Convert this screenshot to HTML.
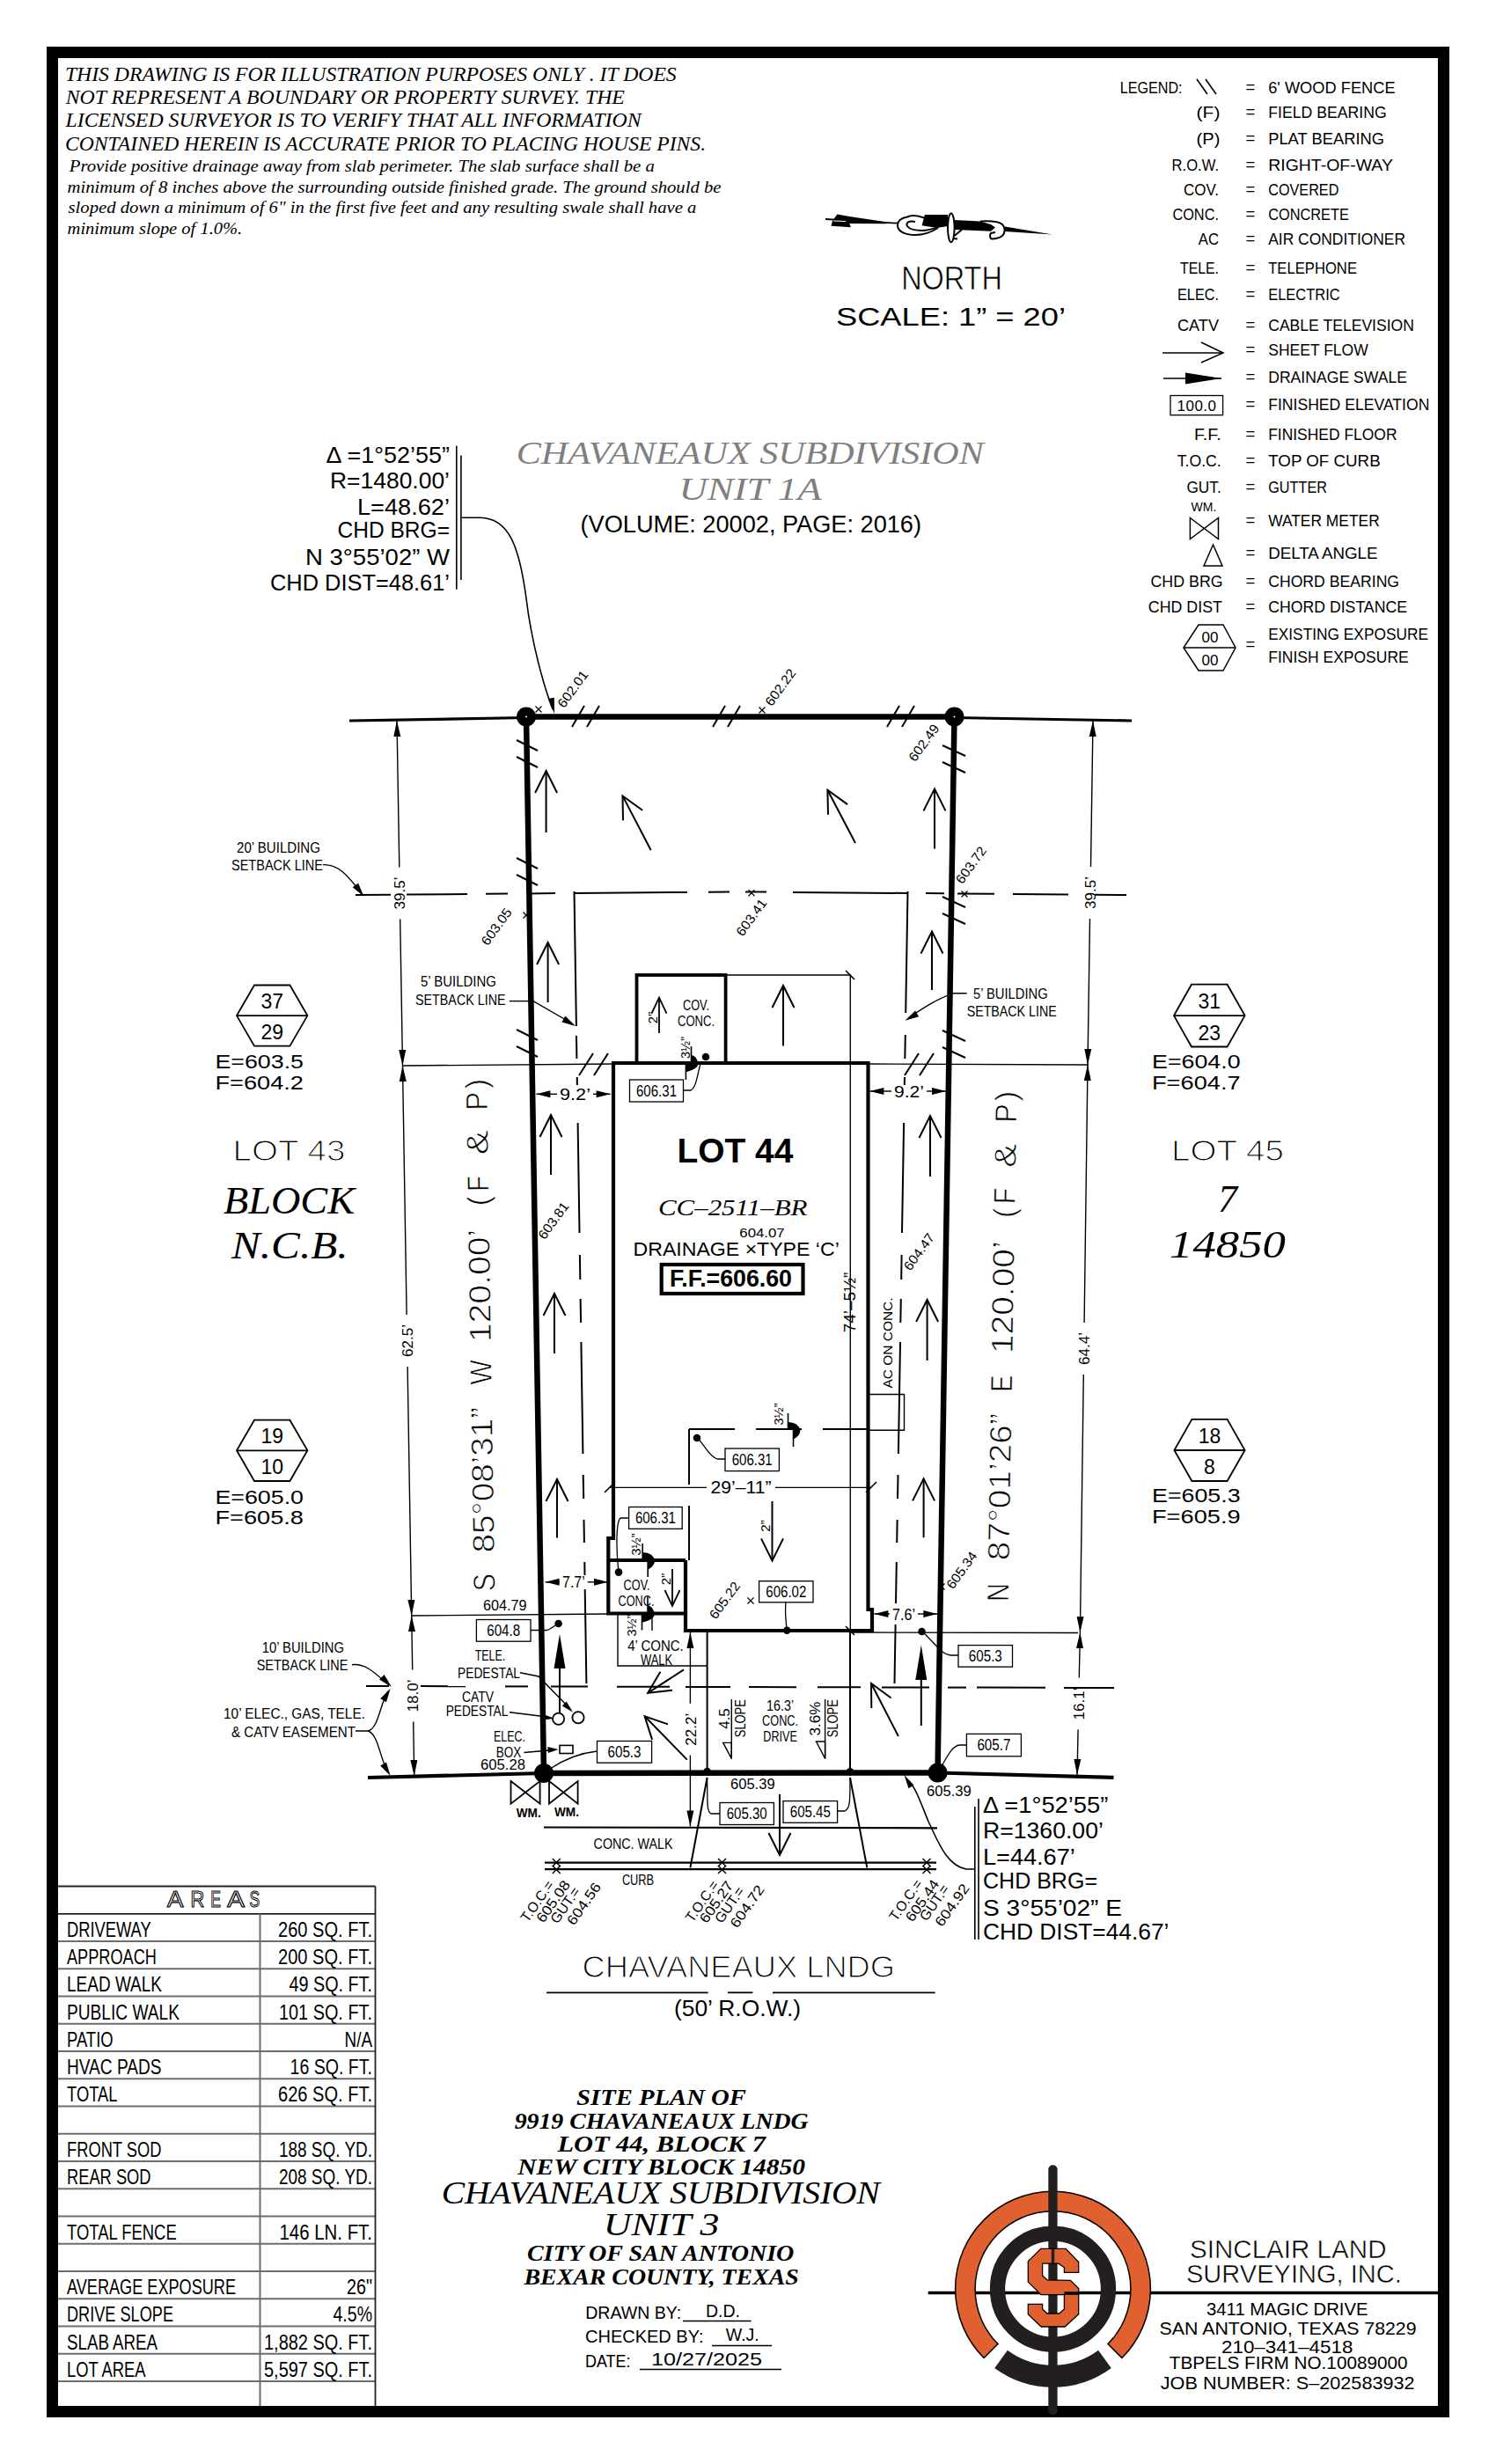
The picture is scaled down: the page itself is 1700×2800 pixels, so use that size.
<!DOCTYPE html>
<html><head><meta charset="utf-8"><style>
html,body{margin:0;padding:0;background:#fff;}
svg{display:block;}
</style></head><body>
<svg width="1700" height="2800" viewBox="0 0 1700 2800">
<rect x="0" y="0" width="1700" height="2800" fill="#fff"/>
<rect x="59.5" y="59.5" width="1581" height="2681" fill="none" stroke="#000" stroke-width="13"/>
<text x="73.9" y="91.6" fill="#000" font-size="24" font-family='"Liberation Serif", serif' textLength="694.8" lengthAdjust="spacingAndGlyphs" font-style="italic">THIS DRAWING IS FOR ILLUSTRATION PURPOSES ONLY . IT DOES</text>
<text x="74.7" y="118.3" fill="#000" font-size="24" font-family='"Liberation Serif", serif' textLength="635.2" lengthAdjust="spacingAndGlyphs" font-style="italic">NOT REPRESENT A BOUNDARY OR PROPERTY SURVEY. THE</text>
<text x="74.5" y="144.2" fill="#000" font-size="24" font-family='"Liberation Serif", serif' textLength="654.1" lengthAdjust="spacingAndGlyphs" font-style="italic">LICENSED SURVEYOR IS TO VERIFY THAT ALL INFORMATION</text>
<text x="73.9" y="171" fill="#000" font-size="24" font-family='"Liberation Serif", serif' textLength="728.2" lengthAdjust="spacingAndGlyphs" font-style="italic">CONTAINED HEREIN IS ACCURATE PRIOR TO PLACING HOUSE PINS.</text>
<text x="78.7" y="195" fill="#000" font-size="19.5" font-family='"Liberation Serif", serif' textLength="665.2" lengthAdjust="spacingAndGlyphs" font-style="italic">Provide positive drainage away from slab perimeter. The slab surface shall be a</text>
<text x="76.6" y="219" fill="#000" font-size="19.5" font-family='"Liberation Serif", serif' textLength="742.9" lengthAdjust="spacingAndGlyphs" font-style="italic">minimum of 8 inches above the surrounding outside finished grade. The ground should be</text>
<text x="77.5" y="241.8" fill="#000" font-size="19.5" font-family='"Liberation Serif", serif' textLength="713.9" lengthAdjust="spacingAndGlyphs" font-style="italic">sloped down a minimum of 6" in the first five feet and any resulting swale shall have a</text>
<text x="76.6" y="265.9" fill="#000" font-size="19.5" font-family='"Liberation Serif", serif' textLength="198.6" lengthAdjust="spacingAndGlyphs" font-style="italic">minimum slope of 1.0%.</text>
<line x1="938" y1="249" x2="1020" y2="253.7" stroke="#000" stroke-width="1.8" stroke-linecap="butt"/>
<polygon points="951.4,243.4 965.3,246 1007,252.3 1007,254.2 965.3,254 966.9,258.3 944.4,256.7 946,250.9" fill="#000"/>
<line x1="947" y1="251" x2="961" y2="251.5" stroke="#fff" stroke-width="1.1" stroke-linecap="butt"/>
<path d="M1050,247.5 C1042,244.5 1035,244.5 1031,246.5 C1023,248 1019.5,252 1020,257 C1021,264 1030,267 1040,267 C1050,267 1058,264 1066,259" fill="none" stroke="#000" stroke-width="2.0"/>
<path d="M1040,252 C1033,250.5 1029,253 1031,257 C1034,261 1040,262 1048,262 C1055,262 1060,260 1066,258" fill="none" stroke="#000" stroke-width="2.0"/>
<polygon points="1050.9,243.9 1077,243.9 1077,257 1064.8,258.9 1047.6,256.2" fill="#000"/>
<ellipse cx="1080.8" cy="258.8" rx="3.8" ry="16.4" fill="#fff" stroke="#000" stroke-width="2"/>
<path d="M1083.5,271 L1088,271.5 M1084.5,268 L1093,261" fill="none" stroke="#000" stroke-width="2.0"/>
<polygon points="1084.5,250 1114,251.5 1126,255 1131,258.5 1126,262.8 1084.5,261" fill="#000"/>
<path d="M1114,251.5 C1125,251 1135,251.5 1139,255 C1143,259 1142,265 1139,268 C1135,271 1128,272 1126,271 C1124.5,269 1125,266 1126,265 L1131,264" fill="none" stroke="#000" stroke-width="2.0"/>
<polygon points="1142,257.5 1196,266.5 1142,263" fill="#000"/>
<text x="1081.5" y="328.7" fill="#000" font-size="36" font-family='"Liberation Sans", sans-serif' text-anchor="middle" textLength="114.7" lengthAdjust="spacingAndGlyphs" stroke="#fff" stroke-width="0.6">NORTH</text>
<text x="950" y="369.6" fill="#000" font-size="29" font-family='"Liberation Sans", sans-serif' textLength="261" lengthAdjust="spacingAndGlyphs">SCALE:  1”  =  20’</text>
<text x="1441.2" y="106.1" fill="#000" font-size="18.5" font-family='"Liberation Sans", sans-serif' textLength="144.4" lengthAdjust="spacingAndGlyphs">6'  WOOD  FENCE</text>
<text x="1421" y="105.1" fill="#000" font-size="18.5" font-family='"Liberation Sans", sans-serif' text-anchor="middle">=</text>
<text x="1441.2" y="134.2" fill="#000" font-size="18.5" font-family='"Liberation Sans", sans-serif' textLength="134.5" lengthAdjust="spacingAndGlyphs">FIELD  BEARING</text>
<text x="1421" y="133.2" fill="#000" font-size="18.5" font-family='"Liberation Sans", sans-serif' text-anchor="middle">=</text>
<text x="1441.2" y="164.1" fill="#000" font-size="18.5" font-family='"Liberation Sans", sans-serif' textLength="131.8" lengthAdjust="spacingAndGlyphs">PLAT  BEARING</text>
<text x="1421" y="163.1" fill="#000" font-size="18.5" font-family='"Liberation Sans", sans-serif' text-anchor="middle">=</text>
<text x="1441.2" y="193.5" fill="#000" font-size="18.5" font-family='"Liberation Sans", sans-serif' textLength="141.7" lengthAdjust="spacingAndGlyphs">RIGHT-OF-WAY</text>
<text x="1421" y="192.5" fill="#000" font-size="18.5" font-family='"Liberation Sans", sans-serif' text-anchor="middle">=</text>
<text x="1441.2" y="221.9" fill="#000" font-size="18.5" font-family='"Liberation Sans", sans-serif' textLength="80.2" lengthAdjust="spacingAndGlyphs">COVERED</text>
<text x="1421" y="220.9" fill="#000" font-size="18.5" font-family='"Liberation Sans", sans-serif' text-anchor="middle">=</text>
<text x="1441.2" y="249.9" fill="#000" font-size="18.5" font-family='"Liberation Sans", sans-serif' textLength="91.7" lengthAdjust="spacingAndGlyphs">CONCRETE</text>
<text x="1421" y="248.9" fill="#000" font-size="18.5" font-family='"Liberation Sans", sans-serif' text-anchor="middle">=</text>
<text x="1441.2" y="278" fill="#000" font-size="18.5" font-family='"Liberation Sans", sans-serif' textLength="155.9" lengthAdjust="spacingAndGlyphs">AIR  CONDITIONER</text>
<text x="1421" y="277" fill="#000" font-size="18.5" font-family='"Liberation Sans", sans-serif' text-anchor="middle">=</text>
<text x="1441.2" y="310.6" fill="#000" font-size="18.5" font-family='"Liberation Sans", sans-serif' textLength="100.8" lengthAdjust="spacingAndGlyphs">TELEPHONE</text>
<text x="1421" y="309.6" fill="#000" font-size="18.5" font-family='"Liberation Sans", sans-serif' text-anchor="middle">=</text>
<text x="1441.2" y="341.4" fill="#000" font-size="18.5" font-family='"Liberation Sans", sans-serif' textLength="81.6" lengthAdjust="spacingAndGlyphs">ELECTRIC</text>
<text x="1421" y="340.4" fill="#000" font-size="18.5" font-family='"Liberation Sans", sans-serif' text-anchor="middle">=</text>
<text x="1441.2" y="376.1" fill="#000" font-size="18.5" font-family='"Liberation Sans", sans-serif' textLength="165.8" lengthAdjust="spacingAndGlyphs">CABLE  TELEVISION</text>
<text x="1421" y="375.1" fill="#000" font-size="18.5" font-family='"Liberation Sans", sans-serif' text-anchor="middle">=</text>
<text x="1441.2" y="404.2" fill="#000" font-size="18.5" font-family='"Liberation Sans", sans-serif' textLength="113.6" lengthAdjust="spacingAndGlyphs">SHEET  FLOW</text>
<text x="1421" y="403.2" fill="#000" font-size="18.5" font-family='"Liberation Sans", sans-serif' text-anchor="middle">=</text>
<text x="1441.2" y="434.8" fill="#000" font-size="18.5" font-family='"Liberation Sans", sans-serif' textLength="157.8" lengthAdjust="spacingAndGlyphs">DRAINAGE  SWALE</text>
<text x="1421" y="433.8" fill="#000" font-size="18.5" font-family='"Liberation Sans", sans-serif' text-anchor="middle">=</text>
<text x="1441.2" y="466.3" fill="#000" font-size="18.5" font-family='"Liberation Sans", sans-serif' textLength="183.2" lengthAdjust="spacingAndGlyphs">FINISHED  ELEVATION</text>
<text x="1421" y="465.3" fill="#000" font-size="18.5" font-family='"Liberation Sans", sans-serif' text-anchor="middle">=</text>
<text x="1441.2" y="500.3" fill="#000" font-size="18.5" font-family='"Liberation Sans", sans-serif' textLength="146.3" lengthAdjust="spacingAndGlyphs">FINISHED  FLOOR</text>
<text x="1421" y="499.3" fill="#000" font-size="18.5" font-family='"Liberation Sans", sans-serif' text-anchor="middle">=</text>
<text x="1441.2" y="530.2" fill="#000" font-size="18.5" font-family='"Liberation Sans", sans-serif' textLength="127.5" lengthAdjust="spacingAndGlyphs">TOP  OF  CURB</text>
<text x="1421" y="529.2" fill="#000" font-size="18.5" font-family='"Liberation Sans", sans-serif' text-anchor="middle">=</text>
<text x="1441.2" y="559.6" fill="#000" font-size="18.5" font-family='"Liberation Sans", sans-serif' textLength="66.8" lengthAdjust="spacingAndGlyphs">GUTTER</text>
<text x="1421" y="558.6" fill="#000" font-size="18.5" font-family='"Liberation Sans", sans-serif' text-anchor="middle">=</text>
<text x="1441.2" y="597.9" fill="#000" font-size="18.5" font-family='"Liberation Sans", sans-serif' textLength="126.5" lengthAdjust="spacingAndGlyphs">WATER  METER</text>
<text x="1421" y="596.9" fill="#000" font-size="18.5" font-family='"Liberation Sans", sans-serif' text-anchor="middle">=</text>
<text x="1441.2" y="635.3" fill="#000" font-size="18.5" font-family='"Liberation Sans", sans-serif' textLength="124.3" lengthAdjust="spacingAndGlyphs">DELTA  ANGLE</text>
<text x="1421" y="634.3" fill="#000" font-size="18.5" font-family='"Liberation Sans", sans-serif' text-anchor="middle">=</text>
<text x="1441.2" y="667.4" fill="#000" font-size="18.5" font-family='"Liberation Sans", sans-serif' textLength="148.9" lengthAdjust="spacingAndGlyphs">CHORD  BEARING</text>
<text x="1421" y="666.4" fill="#000" font-size="18.5" font-family='"Liberation Sans", sans-serif' text-anchor="middle">=</text>
<text x="1441.2" y="695.5" fill="#000" font-size="18.5" font-family='"Liberation Sans", sans-serif' textLength="157.8" lengthAdjust="spacingAndGlyphs">CHORD  DISTANCE</text>
<text x="1421" y="694.5" fill="#000" font-size="18.5" font-family='"Liberation Sans", sans-serif' text-anchor="middle">=</text>
<text x="1441.2" y="726.7" fill="#000" font-size="18.5" font-family='"Liberation Sans", sans-serif' textLength="181.8" lengthAdjust="spacingAndGlyphs">EXISTING  EXPOSURE</text>
<text x="1441.2" y="752.9" fill="#000" font-size="18.5" font-family='"Liberation Sans", sans-serif' textLength="159.6" lengthAdjust="spacingAndGlyphs">FINISH  EXPOSURE</text>
<text x="1272.7" y="106.1" fill="#000" font-size="18.5" font-family='"Liberation Sans", sans-serif' textLength="70.9" lengthAdjust="spacingAndGlyphs">LEGEND:</text>
<text x="1359.6" y="134.2" fill="#000" font-size="18.5" font-family='"Liberation Sans", sans-serif' textLength="26.8" lengthAdjust="spacingAndGlyphs">(F)</text>
<text x="1359.6" y="164.1" fill="#000" font-size="18.5" font-family='"Liberation Sans", sans-serif' textLength="26.8" lengthAdjust="spacingAndGlyphs">(P)</text>
<text x="1331.6" y="193.5" fill="#000" font-size="18.5" font-family='"Liberation Sans", sans-serif' textLength="53.4" lengthAdjust="spacingAndGlyphs">R.O.W.</text>
<text x="1345" y="221.9" fill="#000" font-size="18.5" font-family='"Liberation Sans", sans-serif' textLength="40" lengthAdjust="spacingAndGlyphs">COV.</text>
<text x="1332.4" y="249.9" fill="#000" font-size="18.5" font-family='"Liberation Sans", sans-serif' textLength="52.6" lengthAdjust="spacingAndGlyphs">CONC.</text>
<text x="1361.8" y="278" fill="#000" font-size="18.5" font-family='"Liberation Sans", sans-serif' textLength="23.2" lengthAdjust="spacingAndGlyphs">AC</text>
<text x="1341" y="310.6" fill="#000" font-size="18.5" font-family='"Liberation Sans", sans-serif' textLength="44" lengthAdjust="spacingAndGlyphs">TELE.</text>
<text x="1338" y="341.4" fill="#000" font-size="18.5" font-family='"Liberation Sans", sans-serif' textLength="47" lengthAdjust="spacingAndGlyphs">ELEC.</text>
<text x="1338" y="376.1" fill="#000" font-size="18.5" font-family='"Liberation Sans", sans-serif' textLength="47" lengthAdjust="spacingAndGlyphs">CATV</text>
<text x="1357" y="500.3" fill="#000" font-size="18.5" font-family='"Liberation Sans", sans-serif' textLength="30.7" lengthAdjust="spacingAndGlyphs">F.F.</text>
<text x="1337.7" y="530.2" fill="#000" font-size="18.5" font-family='"Liberation Sans", sans-serif' textLength="50" lengthAdjust="spacingAndGlyphs">T.O.C.</text>
<text x="1348.4" y="559.6" fill="#000" font-size="18.5" font-family='"Liberation Sans", sans-serif' textLength="39.3" lengthAdjust="spacingAndGlyphs">GUT.</text>
<text x="1307.5" y="667.4" fill="#000" font-size="18.5" font-family='"Liberation Sans", sans-serif' textLength="82.1" lengthAdjust="spacingAndGlyphs">CHD  BRG</text>
<text x="1304.8" y="695.5" fill="#000" font-size="18.5" font-family='"Liberation Sans", sans-serif' textLength="84.2" lengthAdjust="spacingAndGlyphs">CHD  DIST</text>
<text x="1421" y="738" fill="#000" font-size="18.5" font-family='"Liberation Sans", sans-serif' text-anchor="middle">=</text>
<line x1="1360" y1="90" x2="1372" y2="107" stroke="#000" stroke-width="1.6" stroke-linecap="butt"/>
<line x1="1370" y1="90" x2="1382" y2="107" stroke="#000" stroke-width="1.6" stroke-linecap="butt"/>
<line x1="1321" y1="401" x2="1390" y2="401" stroke="#000" stroke-width="1.5" stroke-linecap="butt"/>
<polyline points="1365,389 1390,401 1365,412" fill="none" stroke="#000" stroke-width="1.5" stroke-linejoin="miter"/>
<line x1="1322" y1="430" x2="1388" y2="430" stroke="#000" stroke-width="1.6" stroke-linecap="butt"/>
<polygon points="1347,423.5 1388,430 1347,436.5" fill="#000"/>
<rect x="1330" y="449.5" width="59.6" height="22.2" fill="none" stroke="#000" stroke-width="1.3"/>
<text x="1360" y="467" fill="#000" font-size="17" font-family='"Liberation Sans", sans-serif' text-anchor="middle" letter-spacing="0.5">100.0</text>
<text x="1368" y="580.5" fill="#000" font-size="14" font-family='"Liberation Sans", sans-serif' text-anchor="middle">WM.</text>
<polygon points="1352.4,588.5 1384.5,612.6 1384.5,588.5 1352.4,612.6" fill="none" stroke="#000" stroke-width="1.5" stroke-linejoin="miter"/>
<polygon points="1378.5,619 1389,643 1368,643" fill="none" stroke="#000" stroke-width="1.5" stroke-linejoin="miter"/>
<polygon points="1362,710 1390,710 1404,736 1390,762 1362,762 1345,736" fill="none" stroke="#000" stroke-width="1.5" stroke-linejoin="miter"/>
<line x1="1345" y1="736" x2="1404" y2="736" stroke="#000" stroke-width="1.5" stroke-linecap="butt"/>
<text x="1375" y="730" fill="#000" font-size="17" font-family='"Liberation Sans", sans-serif' text-anchor="middle">00</text>
<text x="1375" y="756" fill="#000" font-size="17" font-family='"Liberation Sans", sans-serif' text-anchor="middle">00</text>
<text x="586.8" y="527" fill="#7f7f7f" font-size="35" font-family='"Liberation Serif", serif' textLength="531" lengthAdjust="spacingAndGlyphs" font-style="italic">CHAVANEAUX  SUBDIVISION</text>
<text x="771.5" y="568" fill="#7f7f7f" font-size="35" font-family='"Liberation Serif", serif' textLength="162" lengthAdjust="spacingAndGlyphs" font-style="italic">UNIT  1A</text>
<text x="659.5" y="605" fill="#000" font-size="27" font-family='"Liberation Sans", sans-serif' textLength="387.5" lengthAdjust="spacingAndGlyphs">(VOLUME:  20002,  PAGE:  2016)</text>
<text x="511" y="525.5" fill="#000" font-size="26" font-family='"Liberation Sans", sans-serif' text-anchor="end" textLength="140.4" lengthAdjust="spacingAndGlyphs">Δ =1°52’55”</text>
<text x="511" y="555.4" fill="#000" font-size="26" font-family='"Liberation Sans", sans-serif' text-anchor="end" textLength="136" lengthAdjust="spacingAndGlyphs">R=1480.00’</text>
<text x="511" y="584.8" fill="#000" font-size="26" font-family='"Liberation Sans", sans-serif' text-anchor="end" textLength="105" lengthAdjust="spacingAndGlyphs">L=48.62’</text>
<text x="511" y="611" fill="#000" font-size="26" font-family='"Liberation Sans", sans-serif' text-anchor="end" textLength="127.5" lengthAdjust="spacingAndGlyphs">CHD  BRG=</text>
<text x="511" y="641.8" fill="#000" font-size="26" font-family='"Liberation Sans", sans-serif' text-anchor="end" textLength="164" lengthAdjust="spacingAndGlyphs">N  3°55’02”  W</text>
<text x="511" y="671.2" fill="#000" font-size="26" font-family='"Liberation Sans", sans-serif' text-anchor="end" textLength="204" lengthAdjust="spacingAndGlyphs">CHD  DIST=48.61’</text>
<line x1="518.8" y1="506.7" x2="518.8" y2="669.8" stroke="#000" stroke-width="1.6" stroke-linecap="butt"/>
<line x1="523.9" y1="517.4" x2="523.9" y2="659" stroke="#000" stroke-width="1.6" stroke-linecap="butt"/>
<path d="M524.7,588.3 L546,588.3 C578,589 590,620 598,680 C604,730 618,780 628,806" fill="none" stroke="#000" stroke-width="1.6"/>
<polygon points="630,811 623,794.1 629.8,792.7" fill="#000"/>
<line x1="397" y1="819" x2="598" y2="815.5" stroke="#000" stroke-width="3.2" stroke-linecap="butt"/>
<line x1="1084.5" y1="815.5" x2="1286" y2="819" stroke="#000" stroke-width="3.2" stroke-linecap="butt"/>
<line x1="418" y1="2020" x2="618" y2="2015" stroke="#000" stroke-width="4.2" stroke-linecap="butt"/>
<line x1="1065.5" y1="2014.5" x2="1265.5" y2="2019.8" stroke="#000" stroke-width="4.2" stroke-linecap="butt"/>
<polygon points="598,814.5 1084.5,814.5 1065.5,2014.5 618,2015" fill="none" stroke="#000" stroke-width="6.5" stroke-linejoin="miter"/>
<circle cx="598" cy="814.5" r="11" fill="#000"/>
<circle cx="598" cy="814.5" r="1" fill="#fff"/>
<circle cx="1084.5" cy="814.5" r="11" fill="#000"/>
<circle cx="1084.5" cy="814.5" r="1" fill="#fff"/>
<circle cx="618" cy="2015" r="11" fill="#000"/>
<circle cx="1065.5" cy="2014.5" r="11" fill="#000"/>
<line x1="650" y1="826" x2="664" y2="802" stroke="#000" stroke-width="2.0" stroke-linecap="butt"/>
<line x1="667" y1="826" x2="681" y2="802" stroke="#000" stroke-width="2.0" stroke-linecap="butt"/>
<line x1="810" y1="826" x2="824" y2="802" stroke="#000" stroke-width="2.0" stroke-linecap="butt"/>
<line x1="827" y1="826" x2="841" y2="802" stroke="#000" stroke-width="2.0" stroke-linecap="butt"/>
<line x1="1008" y1="826" x2="1022" y2="802" stroke="#000" stroke-width="2.0" stroke-linecap="butt"/>
<line x1="1025" y1="826" x2="1039" y2="802" stroke="#000" stroke-width="2.0" stroke-linecap="butt"/>
<line x1="587" y1="841" x2="611" y2="853" stroke="#000" stroke-width="2.0" stroke-linecap="butt"/>
<line x1="587" y1="860" x2="611" y2="872" stroke="#000" stroke-width="2.0" stroke-linecap="butt"/>
<line x1="587" y1="975" x2="611" y2="987" stroke="#000" stroke-width="2.0" stroke-linecap="butt"/>
<line x1="587" y1="994" x2="611" y2="1006" stroke="#000" stroke-width="2.0" stroke-linecap="butt"/>
<line x1="587" y1="1170" x2="611" y2="1182" stroke="#000" stroke-width="2.0" stroke-linecap="butt"/>
<line x1="587" y1="1189" x2="611" y2="1201" stroke="#000" stroke-width="2.0" stroke-linecap="butt"/>
<line x1="1071" y1="847" x2="1097" y2="859" stroke="#000" stroke-width="2.0" stroke-linecap="butt"/>
<line x1="1071" y1="866" x2="1097" y2="878" stroke="#000" stroke-width="2.0" stroke-linecap="butt"/>
<line x1="1071" y1="1019" x2="1097" y2="1031" stroke="#000" stroke-width="2.0" stroke-linecap="butt"/>
<line x1="1071" y1="1038" x2="1097" y2="1050" stroke="#000" stroke-width="2.0" stroke-linecap="butt"/>
<line x1="1071" y1="1171" x2="1097" y2="1183" stroke="#000" stroke-width="2.0" stroke-linecap="butt"/>
<line x1="1071" y1="1190" x2="1097" y2="1202" stroke="#000" stroke-width="2.0" stroke-linecap="butt"/>
<line x1="658" y1="1222" x2="674" y2="1197" stroke="#000" stroke-width="2.0" stroke-linecap="butt"/>
<line x1="675" y1="1222" x2="691" y2="1197" stroke="#000" stroke-width="2.0" stroke-linecap="butt"/>
<line x1="1028" y1="1222" x2="1044" y2="1197" stroke="#000" stroke-width="2.0" stroke-linecap="butt"/>
<line x1="1045" y1="1222" x2="1061" y2="1197" stroke="#000" stroke-width="2.0" stroke-linecap="butt"/>
<line x1="404" y1="1017" x2="444" y2="1016.7" stroke="#000" stroke-width="2.0" stroke-linecap="butt"/>
<line x1="462" y1="1016.5" x2="531" y2="1016" stroke="#000" stroke-width="2.0" stroke-linecap="butt"/>
<line x1="552" y1="1015.8" x2="577" y2="1015.6" stroke="#000" stroke-width="2.0" stroke-linecap="butt"/>
<line x1="600" y1="1015.4" x2="631" y2="1015.1" stroke="#000" stroke-width="2.0" stroke-linecap="butt"/>
<line x1="652.5" y1="1015" x2="781" y2="1013.9" stroke="#000" stroke-width="2.0" stroke-linecap="butt"/>
<line x1="805" y1="1013.7" x2="829" y2="1013.5" stroke="#000" stroke-width="2.0" stroke-linecap="butt"/>
<line x1="847" y1="1013.4" x2="871" y2="1013.6" stroke="#000" stroke-width="2.0" stroke-linecap="butt"/>
<line x1="901" y1="1013.9" x2="1031" y2="1015" stroke="#000" stroke-width="2.0" stroke-linecap="butt"/>
<line x1="1052" y1="1015.1" x2="1073" y2="1015.3" stroke="#000" stroke-width="2.0" stroke-linecap="butt"/>
<line x1="1088" y1="1015.4" x2="1130" y2="1015.8" stroke="#000" stroke-width="2.0" stroke-linecap="butt"/>
<line x1="1151" y1="1015.9" x2="1214" y2="1016.5" stroke="#000" stroke-width="2.0" stroke-linecap="butt"/>
<line x1="1244" y1="1016.7" x2="1280" y2="1017" stroke="#000" stroke-width="2.0" stroke-linecap="butt"/>
<line x1="652.5" y1="1013" x2="654.9" y2="1166" stroke="#000" stroke-width="2.0" stroke-linecap="butt"/>
<line x1="655" y1="1177" x2="655.4" y2="1203" stroke="#000" stroke-width="2.0" stroke-linecap="butt"/>
<line x1="655.7" y1="1224" x2="655.9" y2="1233" stroke="#000" stroke-width="2.0" stroke-linecap="butt"/>
<line x1="656.6" y1="1276" x2="658.5" y2="1401" stroke="#000" stroke-width="2.0" stroke-linecap="butt"/>
<line x1="658.9" y1="1426" x2="659.3" y2="1454" stroke="#000" stroke-width="2.0" stroke-linecap="butt"/>
<line x1="659.6" y1="1476" x2="660.1" y2="1503" stroke="#000" stroke-width="2.0" stroke-linecap="butt"/>
<line x1="660.4" y1="1525" x2="662.4" y2="1652" stroke="#000" stroke-width="2.0" stroke-linecap="butt"/>
<line x1="662.7" y1="1676" x2="663.2" y2="1703" stroke="#000" stroke-width="2.0" stroke-linecap="butt"/>
<line x1="663.5" y1="1727" x2="663.9" y2="1753" stroke="#000" stroke-width="2.0" stroke-linecap="butt"/>
<line x1="664.3" y1="1775" x2="664.5" y2="1790" stroke="#000" stroke-width="2.0" stroke-linecap="butt"/>
<line x1="664.7" y1="1806" x2="666.4" y2="1913" stroke="#000" stroke-width="2.0" stroke-linecap="butt"/>
<line x1="1031.5" y1="1013" x2="1029.2" y2="1151" stroke="#000" stroke-width="2.0" stroke-linecap="butt"/>
<line x1="1028.8" y1="1176" x2="1028.3" y2="1203" stroke="#000" stroke-width="2.0" stroke-linecap="butt"/>
<line x1="1028" y1="1224" x2="1027.8" y2="1233" stroke="#000" stroke-width="2.0" stroke-linecap="butt"/>
<line x1="1027.1" y1="1276" x2="1025" y2="1401" stroke="#000" stroke-width="2.0" stroke-linecap="butt"/>
<line x1="1024.6" y1="1426" x2="1024.2" y2="1454" stroke="#000" stroke-width="2.0" stroke-linecap="butt"/>
<line x1="1023.8" y1="1476" x2="1023.3" y2="1503" stroke="#000" stroke-width="2.0" stroke-linecap="butt"/>
<line x1="1023" y1="1525" x2="1020.9" y2="1652" stroke="#000" stroke-width="2.0" stroke-linecap="butt"/>
<line x1="1020.5" y1="1676" x2="1020" y2="1703" stroke="#000" stroke-width="2.0" stroke-linecap="butt"/>
<line x1="1019.6" y1="1727" x2="1019.2" y2="1753" stroke="#000" stroke-width="2.0" stroke-linecap="butt"/>
<line x1="1018.8" y1="1775" x2="1018" y2="1822" stroke="#000" stroke-width="2.0" stroke-linecap="butt"/>
<line x1="1017.6" y1="1846" x2="1016.5" y2="1913" stroke="#000" stroke-width="2.0" stroke-linecap="butt"/>
<line x1="416" y1="1916" x2="442" y2="1916.1" stroke="#000" stroke-width="2.0" stroke-linecap="butt"/>
<line x1="478" y1="1916.1" x2="529" y2="1916.3" stroke="#000" stroke-width="2.0" stroke-linecap="butt"/>
<line x1="574" y1="1916.4" x2="600" y2="1916.4" stroke="#000" stroke-width="2.0" stroke-linecap="butt"/>
<line x1="626" y1="1916.5" x2="668" y2="1916.6" stroke="#000" stroke-width="2.0" stroke-linecap="butt"/>
<line x1="701" y1="1916.7" x2="761" y2="1916.8" stroke="#000" stroke-width="2.0" stroke-linecap="butt"/>
<line x1="779" y1="1916.9" x2="830" y2="1917" stroke="#000" stroke-width="2.0" stroke-linecap="butt"/>
<line x1="851" y1="1917" x2="905" y2="1917.2" stroke="#000" stroke-width="2.0" stroke-linecap="butt"/>
<line x1="929" y1="1917.2" x2="978" y2="1917.3" stroke="#000" stroke-width="2.0" stroke-linecap="butt"/>
<line x1="1002" y1="1917.4" x2="1056" y2="1917.5" stroke="#000" stroke-width="2.0" stroke-linecap="butt"/>
<line x1="1077" y1="1917.6" x2="1098" y2="1917.6" stroke="#000" stroke-width="2.0" stroke-linecap="butt"/>
<line x1="1110" y1="1917.6" x2="1188" y2="1917.8" stroke="#000" stroke-width="2.0" stroke-linecap="butt"/>
<line x1="1209" y1="1917.9" x2="1266" y2="1918" stroke="#000" stroke-width="2.0" stroke-linecap="butt"/>
<line x1="457.5" y1="1211" x2="697" y2="1209" stroke="#000" stroke-width="1.4" stroke-linecap="butt"/>
<line x1="986" y1="1209" x2="1237" y2="1210" stroke="#000" stroke-width="1.4" stroke-linecap="butt"/>
<line x1="467.7" y1="1836" x2="691" y2="1834" stroke="#000" stroke-width="1.4" stroke-linecap="butt"/>
<line x1="966" y1="1855" x2="1225" y2="1855.5" stroke="#000" stroke-width="1.4" stroke-linecap="butt"/>
<line x1="451" y1="819" x2="453.8" y2="985.6" stroke="#000" stroke-width="1.4" stroke-linecap="butt"/>
<line x1="454.7" y1="1044.4" x2="457.5" y2="1211" stroke="#000" stroke-width="1.4" stroke-linecap="butt"/>
<polygon points="451,819 455.3,836.9 447.3,837.1" fill="#000"/>
<polygon points="457.5,1211 453.2,1193.1 461.2,1192.9" fill="#000"/>
<text transform="translate(460.4,1015) rotate(-90)" x="0" y="0" fill="#000" font-size="17" font-family='"Liberation Sans", sans-serif' text-anchor="middle">39.5’</text>
<line x1="457.5" y1="1211" x2="462.1" y2="1494.1" stroke="#000" stroke-width="1.4" stroke-linecap="butt"/>
<line x1="463.1" y1="1552.9" x2="467.7" y2="1836" stroke="#000" stroke-width="1.4" stroke-linecap="butt"/>
<polygon points="457.5,1211 461.8,1228.9 453.8,1229.1" fill="#000"/>
<polygon points="467.7,1836 463.4,1818.1 471.4,1817.9" fill="#000"/>
<text transform="translate(468.7,1523.5) rotate(-90)" x="0" y="0" fill="#000" font-size="17" font-family='"Liberation Sans", sans-serif' text-anchor="middle">62.5’</text>
<line x1="467.7" y1="1836" x2="468.7" y2="1897.6" stroke="#000" stroke-width="1.4" stroke-linecap="butt"/>
<line x1="469.7" y1="1956.4" x2="470.7" y2="2018" stroke="#000" stroke-width="1.4" stroke-linecap="butt"/>
<polygon points="467.7,1836 472,1853.9 464,1854.1" fill="#000"/>
<polygon points="470.7,2018 466.4,2000.1 474.4,1999.9" fill="#000"/>
<text transform="translate(475.3,1927) rotate(-90)" x="0" y="0" fill="#000" font-size="17" font-family='"Liberation Sans", sans-serif' text-anchor="middle">18.0’</text>
<line x1="1242" y1="819" x2="1239.5" y2="985.1" stroke="#000" stroke-width="1.4" stroke-linecap="butt"/>
<line x1="1238.5" y1="1043.9" x2="1236" y2="1210" stroke="#000" stroke-width="1.4" stroke-linecap="butt"/>
<polygon points="1242,819 1245.7,837.1 1237.7,836.9" fill="#000"/>
<polygon points="1236,1210 1232.3,1191.9 1240.3,1192.1" fill="#000"/>
<text transform="translate(1245.1,1014.5) rotate(-90)" x="0" y="0" fill="#000" font-size="17" font-family='"Liberation Sans", sans-serif' text-anchor="middle">39.5’</text>
<line x1="1236" y1="1210" x2="1232.1" y2="1503.1" stroke="#000" stroke-width="1.4" stroke-linecap="butt"/>
<line x1="1231.3" y1="1561.9" x2="1227.4" y2="1855" stroke="#000" stroke-width="1.4" stroke-linecap="butt"/>
<polygon points="1236,1210 1239.8,1228.1 1231.8,1227.9" fill="#000"/>
<polygon points="1227.4,1855 1223.6,1836.9 1231.6,1837.1" fill="#000"/>
<text transform="translate(1237.8,1532.5) rotate(-90)" x="0" y="0" fill="#000" font-size="17" font-family='"Liberation Sans", sans-serif' text-anchor="middle">64.4’</text>
<line x1="1227.4" y1="1855" x2="1226.3" y2="1906.6" stroke="#000" stroke-width="1.4" stroke-linecap="butt"/>
<line x1="1225.1" y1="1965.4" x2="1224" y2="2017" stroke="#000" stroke-width="1.4" stroke-linecap="butt"/>
<polygon points="1227.4,1855 1231,1873.1 1223,1872.9" fill="#000"/>
<polygon points="1224,2017 1220.4,1998.9 1228.4,1999.1" fill="#000"/>
<text transform="translate(1231.8,1936) rotate(-90)" x="0" y="0" fill="#000" font-size="17" font-family='"Liberation Sans", sans-serif' text-anchor="middle">16.1’</text>
<polygon points="779,1853 991,1853 991,1829 986.5,1829 986.5,1208 697,1208 697,1748 691.3,1748 691.3,1833.5 779,1833.5 779,1853" fill="none" stroke="#000" stroke-width="4.2" stroke-linejoin="miter"/>
<line x1="691.3" y1="1773" x2="779" y2="1773" stroke="#000" stroke-width="4.2" stroke-linecap="butt"/>
<line x1="779" y1="1773" x2="779" y2="1833.5" stroke="#000" stroke-width="4.2" stroke-linecap="butt"/>
<rect x="723.5" y="1108" width="101.1" height="100" fill="none" stroke="#000" stroke-width="3.8"/>
<polyline points="824.6,1108 966.3,1108 966.3,1853" fill="none" stroke="#000" stroke-width="1.4" stroke-linejoin="miter"/>
<line x1="961" y1="1103" x2="971" y2="1113" stroke="#000" stroke-width="1.6" stroke-linecap="butt"/>
<line x1="961" y1="1848" x2="971" y2="1858" stroke="#000" stroke-width="1.6" stroke-linecap="butt"/>
<text transform="translate(972,1480) rotate(-90)" x="0" y="0" fill="#000" font-size="19" font-family='"Liberation Sans", sans-serif' text-anchor="middle">74’–5½”</text>
<line x1="783" y1="1624" x2="835" y2="1624" stroke="#000" stroke-width="2.0" stroke-linecap="butt"/>
<line x1="859" y1="1624" x2="911" y2="1624" stroke="#000" stroke-width="2.0" stroke-linecap="butt"/>
<line x1="935" y1="1624" x2="986" y2="1624" stroke="#000" stroke-width="2.0" stroke-linecap="butt"/>
<line x1="783" y1="1624" x2="783" y2="1687" stroke="#000" stroke-width="2.0" stroke-linecap="butt"/>
<line x1="783" y1="1711" x2="783" y2="1773" stroke="#000" stroke-width="2.0" stroke-linecap="butt"/>
<polyline points="986.5,1584.5 1027.5,1584.5 1027.5,1625.2 986.5,1625.2" fill="none" stroke="#000" stroke-width="1.4" stroke-linejoin="miter"/>
<text transform="translate(1014,1526) rotate(-90)" x="0" y="0" fill="#000" font-size="15" font-family='"Liberation Sans", sans-serif' text-anchor="middle" textLength="103" lengthAdjust="spacingAndGlyphs">AC  ON  CONC.</text>
<line x1="693" y1="1690.4" x2="803" y2="1690.4" stroke="#000" stroke-width="1.4" stroke-linecap="butt"/>
<line x1="881" y1="1690.4" x2="990" y2="1690.4" stroke="#000" stroke-width="1.4" stroke-linecap="butt"/>
<line x1="687" y1="1696" x2="699" y2="1684" stroke="#000" stroke-width="1.6" stroke-linecap="butt"/>
<line x1="984" y1="1696" x2="996" y2="1684" stroke="#000" stroke-width="1.6" stroke-linecap="butt"/>
<text x="842" y="1697" fill="#000" font-size="20" font-family='"Liberation Sans", sans-serif' text-anchor="middle" textLength="69" lengthAdjust="spacingAndGlyphs">29’–11”</text>
<polyline points="702,1833.6 702,1893 803.6,1893" fill="none" stroke="#000" stroke-width="1.4" stroke-linejoin="miter"/>
<line x1="741" y1="1833.5" x2="741" y2="1853" stroke="#000" stroke-width="1.4" stroke-linecap="butt"/>
<text x="745" y="1875.7" fill="#000" font-size="16.5" font-family='"Liberation Sans", sans-serif' text-anchor="middle" textLength="63.6" lengthAdjust="spacingAndGlyphs">4’  CONC.</text>
<text x="746" y="1892" fill="#000" font-size="16.5" font-family='"Liberation Sans", sans-serif' text-anchor="middle" textLength="36.2" lengthAdjust="spacingAndGlyphs">WALK</text>
<line x1="803.6" y1="1853" x2="803.6" y2="2013" stroke="#000" stroke-width="2.0" stroke-linecap="butt"/>
<line x1="966" y1="1853" x2="966" y2="2013" stroke="#000" stroke-width="2.0" stroke-linecap="butt"/>
<line x1="803.6" y1="2020" x2="784.4" y2="2122.4" stroke="#000" stroke-width="2.0" stroke-linecap="butt"/>
<line x1="966" y1="2020" x2="985.3" y2="2122.4" stroke="#000" stroke-width="2.0" stroke-linecap="butt"/>
<line x1="618" y1="2076.5" x2="1065" y2="2077.3" stroke="#000" stroke-width="2.2" stroke-linecap="butt"/>
<line x1="619" y1="2116.7" x2="1064" y2="2116.7" stroke="#000" stroke-width="2.2" stroke-linecap="butt"/>
<line x1="619" y1="2124.2" x2="1064" y2="2124.2" stroke="#000" stroke-width="2.2" stroke-linecap="butt"/>
<line x1="627.8" y1="2112" x2="636.8" y2="2121" stroke="#000" stroke-width="1.4" stroke-linecap="butt"/>
<line x1="627.8" y1="2121" x2="636.8" y2="2112" stroke="#000" stroke-width="1.4" stroke-linecap="butt"/>
<line x1="627.8" y1="2120" x2="636.8" y2="2129" stroke="#000" stroke-width="1.4" stroke-linecap="butt"/>
<line x1="627.8" y1="2129" x2="636.8" y2="2120" stroke="#000" stroke-width="1.4" stroke-linecap="butt"/>
<line x1="816" y1="2112" x2="825" y2="2121" stroke="#000" stroke-width="1.4" stroke-linecap="butt"/>
<line x1="816" y1="2121" x2="825" y2="2112" stroke="#000" stroke-width="1.4" stroke-linecap="butt"/>
<line x1="816" y1="2120" x2="825" y2="2129" stroke="#000" stroke-width="1.4" stroke-linecap="butt"/>
<line x1="816" y1="2129" x2="825" y2="2120" stroke="#000" stroke-width="1.4" stroke-linecap="butt"/>
<line x1="1048.5" y1="2112" x2="1057.5" y2="2121" stroke="#000" stroke-width="1.4" stroke-linecap="butt"/>
<line x1="1048.5" y1="2121" x2="1057.5" y2="2112" stroke="#000" stroke-width="1.4" stroke-linecap="butt"/>
<line x1="1048.5" y1="2120" x2="1057.5" y2="2129" stroke="#000" stroke-width="1.4" stroke-linecap="butt"/>
<line x1="1048.5" y1="2129" x2="1057.5" y2="2120" stroke="#000" stroke-width="1.4" stroke-linecap="butt"/>
<text x="719.5" y="2100.8" fill="#000" font-size="16.5" font-family='"Liberation Sans", sans-serif' text-anchor="middle" textLength="89.8" lengthAdjust="spacingAndGlyphs">CONC.  WALK</text>
<text x="725" y="2142" fill="#000" font-size="16.5" font-family='"Liberation Sans", sans-serif' text-anchor="middle" textLength="36.2" lengthAdjust="spacingAndGlyphs">CURB</text>
<circle cx="802" cy="1201" r="4.3" fill="#000"/>
<circle cx="792" cy="1634" r="4.3" fill="#000"/>
<circle cx="703" cy="1786.6" r="4.3" fill="#000"/>
<circle cx="634.6" cy="1845" r="4.3" fill="#000"/>
<circle cx="803.6" cy="2013" r="4.3" fill="#000"/>
<circle cx="966" cy="2013.3" r="4.3" fill="#000"/>
<circle cx="894.3" cy="1852.8" r="4.3" fill="#000"/>
<circle cx="1047.5" cy="1854" r="4.3" fill="#000"/>
<rect x="715.5" y="1227" width="61" height="25" fill="none" stroke="#000" stroke-width="1.3"/>
<text x="746" y="1245.8" fill="#000" font-size="17.5" font-family='"Liberation Sans", sans-serif' text-anchor="middle" textLength="46" lengthAdjust="spacingAndGlyphs">606.31</text>
<rect x="824" y="1646" width="61.4" height="25.6" fill="none" stroke="#000" stroke-width="1.3"/>
<text x="854.7" y="1665.1" fill="#000" font-size="17.5" font-family='"Liberation Sans", sans-serif' text-anchor="middle" textLength="46" lengthAdjust="spacingAndGlyphs">606.31</text>
<rect x="714.6" y="1712.5" width="60.6" height="24.8" fill="none" stroke="#000" stroke-width="1.3"/>
<text x="744.9" y="1731.2" fill="#000" font-size="17.5" font-family='"Liberation Sans", sans-serif' text-anchor="middle" textLength="46" lengthAdjust="spacingAndGlyphs">606.31</text>
<rect x="862.6" y="1796.7" width="61.4" height="24.1" fill="none" stroke="#000" stroke-width="1.3"/>
<text x="893.3" y="1815" fill="#000" font-size="17.5" font-family='"Liberation Sans", sans-serif' text-anchor="middle" textLength="46" lengthAdjust="spacingAndGlyphs">606.02</text>
<rect x="541.4" y="1840.5" width="61.6" height="24.7" fill="none" stroke="#000" stroke-width="1.3"/>
<text x="572.2" y="1859.1" fill="#000" font-size="17.5" font-family='"Liberation Sans", sans-serif' text-anchor="middle" textLength="38" lengthAdjust="spacingAndGlyphs">604.8</text>
<rect x="678.5" y="1978.5" width="62.1" height="24.7" fill="none" stroke="#000" stroke-width="1.3"/>
<text x="709.5" y="1997.1" fill="#000" font-size="17.5" font-family='"Liberation Sans", sans-serif' text-anchor="middle" textLength="38" lengthAdjust="spacingAndGlyphs">605.3</text>
<rect x="818" y="2048.5" width="61.4" height="25" fill="none" stroke="#000" stroke-width="1.3"/>
<text x="848.7" y="2067.3" fill="#000" font-size="17.5" font-family='"Liberation Sans", sans-serif' text-anchor="middle" textLength="46" lengthAdjust="spacingAndGlyphs">605.30</text>
<rect x="890" y="2046.6" width="61.6" height="24.7" fill="none" stroke="#000" stroke-width="1.3"/>
<text x="920.8" y="2065.2" fill="#000" font-size="17.5" font-family='"Liberation Sans", sans-serif' text-anchor="middle" textLength="46" lengthAdjust="spacingAndGlyphs">605.45</text>
<rect x="1089" y="1869.6" width="61.5" height="24.6" fill="none" stroke="#000" stroke-width="1.3"/>
<text x="1119.8" y="1888.2" fill="#000" font-size="17.5" font-family='"Liberation Sans", sans-serif' text-anchor="middle" textLength="38" lengthAdjust="spacingAndGlyphs">605.3</text>
<rect x="1098.4" y="1970.4" width="62" height="25.4" fill="none" stroke="#000" stroke-width="1.3"/>
<text x="1129.4" y="1989.4" fill="#000" font-size="17.5" font-family='"Liberation Sans", sans-serif' text-anchor="middle" textLength="38" lengthAdjust="spacingAndGlyphs">605.7</text>
<path d="M776.5,1239 L785,1239 C792,1235 792,1220 797,1206" fill="none" stroke="#000" stroke-width="1.3"/>
<path d="M824,1658 L815,1658 C805,1655 800,1640 792,1634" fill="none" stroke="#000" stroke-width="1.3"/>
<path d="M714.6,1725 L705,1725 C700,1730 700,1760 703,1786" fill="none" stroke="#000" stroke-width="1.3"/>
<path d="M893,1821 C892,1830 893,1845 894.3,1852" fill="none" stroke="#000" stroke-width="1.3"/>
<path d="M603,1852.5 L622,1852.5 C628,1850 630,1847 634.6,1845" fill="none" stroke="#000" stroke-width="1.3"/>
<path d="M678.5,1990 C660,1992 640,2000 625,2010" fill="none" stroke="#000" stroke-width="1.3"/>
<path d="M818,2061 L808,2061 C803,2058 804,2050 803.6,2020" fill="none" stroke="#000" stroke-width="1.3"/>
<path d="M951.6,2058 L960,2058 C966,2055 966,2048 966,2020" fill="none" stroke="#000" stroke-width="1.3"/>
<path d="M1089,1881 L1080,1881 C1070,1880 1065,1870 1048,1854" fill="none" stroke="#000" stroke-width="1.3"/>
<path d="M1098.4,1983 L1090,1983 C1080,1985 1075,2000 1068,2010" fill="none" stroke="#000" stroke-width="1.3"/>
<rect x="751.7" y="1437" width="160.8" height="33" fill="none" stroke="#000" stroke-width="4.2"/>
<text x="830.5" y="1462" fill="#000" font-size="27" font-family='"Liberation Sans", sans-serif' text-anchor="middle" textLength="139" lengthAdjust="spacingAndGlyphs" font-weight="bold">F.F.=606.60</text>
<text x="835.4" y="1321" fill="#000" font-size="39" font-family='"Liberation Sans", sans-serif' text-anchor="middle" textLength="132" lengthAdjust="spacingAndGlyphs" font-weight="bold">LOT  44</text>
<text x="832.7" y="1380.9" fill="#000" font-size="26" font-family='"Liberation Serif", serif' text-anchor="middle" textLength="169.4" lengthAdjust="spacingAndGlyphs" font-style="italic">CC–2511–BR</text>
<text x="866" y="1405.5" fill="#000" font-size="14" font-family='"Liberation Sans", sans-serif' text-anchor="middle" textLength="51.4" lengthAdjust="spacingAndGlyphs">604.07</text>
<text x="836.7" y="1426.8" fill="#000" font-size="22.5" font-family='"Liberation Sans", sans-serif' text-anchor="middle" textLength="234.2" lengthAdjust="spacingAndGlyphs">DRAINAGE  ×TYPE  ‘C’</text>
<text x="791" y="1148.4" fill="#000" font-size="17" font-family='"Liberation Sans", sans-serif' text-anchor="middle" textLength="30" lengthAdjust="spacingAndGlyphs">COV.</text>
<text x="791" y="1165.8" fill="#000" font-size="17" font-family='"Liberation Sans", sans-serif' text-anchor="middle" textLength="42" lengthAdjust="spacingAndGlyphs">CONC.</text>
<text transform="translate(747,1156.5) rotate(-90)" x="0" y="0" fill="#000" font-size="15" font-family='"Liberation Sans", sans-serif' text-anchor="middle">2”</text>
<text x="723.6" y="1807" fill="#000" font-size="17" font-family='"Liberation Sans", sans-serif' text-anchor="middle" textLength="30" lengthAdjust="spacingAndGlyphs">COV.</text>
<text x="723" y="1825" fill="#000" font-size="17" font-family='"Liberation Sans", sans-serif' text-anchor="middle" textLength="41" lengthAdjust="spacingAndGlyphs">CONC.</text>
<text transform="translate(761.5,1794.5) rotate(-90)" x="0" y="0" fill="#000" font-size="15" font-family='"Liberation Sans", sans-serif' text-anchor="middle">2”</text>
<text transform="translate(784,1190.5) rotate(-90)" x="0" y="0" fill="#000" font-size="15" font-family='"Liberation Sans", sans-serif' text-anchor="middle" textLength="25" lengthAdjust="spacingAndGlyphs">3½”</text>
<text transform="translate(890,1607) rotate(-90)" x="0" y="0" fill="#000" font-size="15" font-family='"Liberation Sans", sans-serif' text-anchor="middle" textLength="25" lengthAdjust="spacingAndGlyphs">3½”</text>
<text transform="translate(728,1755) rotate(-90)" x="0" y="0" fill="#000" font-size="15" font-family='"Liberation Sans", sans-serif' text-anchor="middle" textLength="25" lengthAdjust="spacingAndGlyphs">3½”</text>
<text transform="translate(723,1847) rotate(-90)" x="0" y="0" fill="#000" font-size="15" font-family='"Liberation Sans", sans-serif' text-anchor="middle" textLength="25" lengthAdjust="spacingAndGlyphs">3½”</text>
<text transform="translate(874.6,1734) rotate(-90)" x="0" y="0" fill="#000" font-size="15" font-family='"Liberation Sans", sans-serif' text-anchor="middle">2”</text>
<line x1="620.6" y1="946" x2="620.6" y2="876" stroke="#000" stroke-width="2.0" stroke-linecap="butt"/>
<polyline points="633.1,901 620.6,876 608.1,901" fill="none" stroke="#000" stroke-width="2.0" stroke-linejoin="miter"/>
<line x1="622.6" y1="1139" x2="622.6" y2="1071" stroke="#000" stroke-width="2.0" stroke-linecap="butt"/>
<polyline points="635.1,1096 622.6,1071 610.1,1096" fill="none" stroke="#000" stroke-width="2.0" stroke-linejoin="miter"/>
<line x1="626" y1="1335" x2="626" y2="1267" stroke="#000" stroke-width="2.0" stroke-linecap="butt"/>
<polyline points="638.5,1292 626,1267 613.5,1292" fill="none" stroke="#000" stroke-width="2.0" stroke-linejoin="miter"/>
<line x1="630" y1="1538" x2="630" y2="1470" stroke="#000" stroke-width="2.0" stroke-linecap="butt"/>
<polyline points="642.5,1495 630,1470 617.5,1495" fill="none" stroke="#000" stroke-width="2.0" stroke-linejoin="miter"/>
<line x1="633" y1="1747.6" x2="633" y2="1681" stroke="#000" stroke-width="2.0" stroke-linecap="butt"/>
<polyline points="645.5,1706 633,1681 620.5,1706" fill="none" stroke="#000" stroke-width="2.0" stroke-linejoin="miter"/>
<line x1="1062" y1="964.6" x2="1062" y2="896.4" stroke="#000" stroke-width="2.0" stroke-linecap="butt"/>
<polyline points="1074.5,921.4 1062,896.4 1049.5,921.4" fill="none" stroke="#000" stroke-width="2.0" stroke-linejoin="miter"/>
<line x1="1059" y1="1125" x2="1059" y2="1058.5" stroke="#000" stroke-width="2.0" stroke-linecap="butt"/>
<polyline points="1071.5,1083.5 1059,1058.5 1046.5,1083.5" fill="none" stroke="#000" stroke-width="2.0" stroke-linejoin="miter"/>
<line x1="1057" y1="1337" x2="1057" y2="1268" stroke="#000" stroke-width="2.0" stroke-linecap="butt"/>
<polyline points="1069.5,1293 1057,1268 1044.5,1293" fill="none" stroke="#000" stroke-width="2.0" stroke-linejoin="miter"/>
<line x1="1053.6" y1="1546" x2="1053.6" y2="1477" stroke="#000" stroke-width="2.0" stroke-linecap="butt"/>
<polyline points="1066.1,1502 1053.6,1477 1041.1,1502" fill="none" stroke="#000" stroke-width="2.0" stroke-linejoin="miter"/>
<line x1="1049.6" y1="1747.2" x2="1049.6" y2="1680.4" stroke="#000" stroke-width="2.0" stroke-linecap="butt"/>
<polyline points="1062.1,1705.4 1049.6,1680.4 1037.1,1705.4" fill="none" stroke="#000" stroke-width="2.0" stroke-linejoin="miter"/>
<line x1="890" y1="1188.5" x2="890" y2="1120" stroke="#000" stroke-width="2.0" stroke-linecap="butt"/>
<polyline points="902.5,1145 890,1120 877.5,1145" fill="none" stroke="#000" stroke-width="2.0" stroke-linejoin="miter"/>
<line x1="749" y1="1174" x2="749" y2="1133.7" stroke="#000" stroke-width="1.8" stroke-linecap="butt"/>
<polyline points="757.5,1151.7 749,1133.7 740.5,1151.7" fill="none" stroke="#000" stroke-width="1.8" stroke-linejoin="miter"/>
<line x1="877.5" y1="1706" x2="877.5" y2="1773.4" stroke="#000" stroke-width="2.0" stroke-linecap="butt"/>
<polyline points="865,1748.4 877.5,1773.4 890,1748.4" fill="none" stroke="#000" stroke-width="2.0" stroke-linejoin="miter"/>
<line x1="764" y1="1783" x2="764" y2="1825" stroke="#000" stroke-width="1.8" stroke-linecap="butt"/>
<polyline points="755.5,1807 764,1825 772.5,1807" fill="none" stroke="#000" stroke-width="1.8" stroke-linejoin="miter"/>
<line x1="886" y1="2039" x2="886" y2="2108" stroke="#000" stroke-width="2.0" stroke-linecap="butt"/>
<polyline points="873.5,2083 886,2108 898.5,2083" fill="none" stroke="#000" stroke-width="2.0" stroke-linejoin="miter"/>
<line x1="739.6" y1="966" x2="707.5" y2="904.4" stroke="#000" stroke-width="2.0" stroke-linecap="butt"/>
<polyline points="730.1,920.8 707.5,904.4 708,932.3" fill="none" stroke="#000" stroke-width="2.0" stroke-linejoin="miter"/>
<line x1="972" y1="958" x2="940.4" y2="897.8" stroke="#000" stroke-width="2.0" stroke-linecap="butt"/>
<polyline points="963.1,914.1 940.4,897.8 941,925.7" fill="none" stroke="#000" stroke-width="2.0" stroke-linejoin="miter"/>
<line x1="777" y1="1897.4" x2="736.2" y2="1923.8" stroke="#000" stroke-width="2.0" stroke-linecap="butt"/>
<polyline points="750.4,1899.7 736.2,1923.8 764,1920.7" fill="none" stroke="#000" stroke-width="2.0" stroke-linejoin="miter"/>
<line x1="780.8" y1="1999.6" x2="732.6" y2="1950.3" stroke="#000" stroke-width="2.0" stroke-linecap="butt"/>
<polyline points="759,1959.4 732.6,1950.3 741.1,1976.9" fill="none" stroke="#000" stroke-width="2.0" stroke-linejoin="miter"/>
<line x1="1020.9" y1="1973" x2="990" y2="1913" stroke="#000" stroke-width="2.0" stroke-linecap="butt"/>
<polyline points="1012.6,1929.5 990,1913 990.3,1940.9" fill="none" stroke="#000" stroke-width="2.0" stroke-linejoin="miter"/>
<line x1="636" y1="1947" x2="636" y2="1890" stroke="#000" stroke-width="2.0" stroke-linecap="butt"/>
<polygon points="636,1857 629.5,1896 642.5,1896" fill="#000"/>
<line x1="1046.8" y1="1961" x2="1046.8" y2="1900" stroke="#000" stroke-width="2.0" stroke-linecap="butt"/>
<polygon points="1046.8,1869.6 1040.3,1909 1053.3,1909" fill="#000"/>
<text transform="translate(655,786) rotate(-54)" x="0" y="0" fill="#000" font-size="15" font-family='"Liberation Sans", sans-serif' text-anchor="middle" textLength="48" lengthAdjust="spacingAndGlyphs">602.01</text>
<text transform="translate(891,784) rotate(-54)" x="0" y="0" fill="#000" font-size="15" font-family='"Liberation Sans", sans-serif' text-anchor="middle" textLength="48" lengthAdjust="spacingAndGlyphs">602.22</text>
<text transform="translate(1054,847) rotate(-54)" x="0" y="0" fill="#000" font-size="15" font-family='"Liberation Sans", sans-serif' text-anchor="middle" textLength="48" lengthAdjust="spacingAndGlyphs">602.49</text>
<text transform="translate(1107.5,986) rotate(-54)" x="0" y="0" fill="#000" font-size="15" font-family='"Liberation Sans", sans-serif' text-anchor="middle" textLength="48" lengthAdjust="spacingAndGlyphs">603.72</text>
<text transform="translate(568.4,1056) rotate(-54)" x="0" y="0" fill="#000" font-size="15" font-family='"Liberation Sans", sans-serif' text-anchor="middle" textLength="48" lengthAdjust="spacingAndGlyphs">603.05</text>
<text transform="translate(858,1045.5) rotate(-54)" x="0" y="0" fill="#000" font-size="15" font-family='"Liberation Sans", sans-serif' text-anchor="middle" textLength="48" lengthAdjust="spacingAndGlyphs">603.41</text>
<text transform="translate(633,1390) rotate(-54)" x="0" y="0" fill="#000" font-size="15" font-family='"Liberation Sans", sans-serif' text-anchor="middle" textLength="48" lengthAdjust="spacingAndGlyphs">603.81</text>
<text transform="translate(1048.6,1425.5) rotate(-54)" x="0" y="0" fill="#000" font-size="15" font-family='"Liberation Sans", sans-serif' text-anchor="middle" textLength="48" lengthAdjust="spacingAndGlyphs">604.47</text>
<text transform="translate(827.7,1821.5) rotate(-54)" x="0" y="0" fill="#000" font-size="15" font-family='"Liberation Sans", sans-serif' text-anchor="middle" textLength="48" lengthAdjust="spacingAndGlyphs">605.22</text>
<text transform="translate(1097,1787.3) rotate(-54)" x="0" y="0" fill="#000" font-size="15" font-family='"Liberation Sans", sans-serif' text-anchor="middle" textLength="48" lengthAdjust="spacingAndGlyphs">605.34</text>
<line x1="608.5" y1="802.5" x2="615.5" y2="809.5" stroke="#000" stroke-width="1.3" stroke-linecap="butt"/>
<line x1="608.5" y1="809.5" x2="615.5" y2="802.5" stroke="#000" stroke-width="1.3" stroke-linecap="butt"/>
<line x1="862.5" y1="803.5" x2="869.5" y2="810.5" stroke="#000" stroke-width="1.3" stroke-linecap="butt"/>
<line x1="862.5" y1="810.5" x2="869.5" y2="803.5" stroke="#000" stroke-width="1.3" stroke-linecap="butt"/>
<line x1="850.5" y1="1011.2" x2="857.5" y2="1018.2" stroke="#000" stroke-width="1.3" stroke-linecap="butt"/>
<line x1="850.5" y1="1018.2" x2="857.5" y2="1011.2" stroke="#000" stroke-width="1.3" stroke-linecap="butt"/>
<line x1="1092.5" y1="1012.5" x2="1099.5" y2="1019.5" stroke="#000" stroke-width="1.3" stroke-linecap="butt"/>
<line x1="1092.5" y1="1019.5" x2="1099.5" y2="1012.5" stroke="#000" stroke-width="1.3" stroke-linecap="butt"/>
<line x1="594.5" y1="1036.5" x2="601.5" y2="1043.5" stroke="#000" stroke-width="1.3" stroke-linecap="butt"/>
<line x1="594.5" y1="1043.5" x2="601.5" y2="1036.5" stroke="#000" stroke-width="1.3" stroke-linecap="butt"/>
<line x1="1066.5" y1="1799.5" x2="1073.5" y2="1806.5" stroke="#000" stroke-width="1.3" stroke-linecap="butt"/>
<line x1="1066.5" y1="1806.5" x2="1073.5" y2="1799.5" stroke="#000" stroke-width="1.3" stroke-linecap="butt"/>
<line x1="849.5" y1="1815.5" x2="856.5" y2="1822.5" stroke="#000" stroke-width="1.3" stroke-linecap="butt"/>
<line x1="849.5" y1="1822.5" x2="856.5" y2="1815.5" stroke="#000" stroke-width="1.3" stroke-linecap="butt"/>
<text x="573.7" y="1830" fill="#000" font-size="16" font-family='"Liberation Sans", sans-serif' text-anchor="middle" textLength="49.5" lengthAdjust="spacingAndGlyphs">604.79</text>
<text x="571.5" y="2010.5" fill="#000" font-size="16" font-family='"Liberation Sans", sans-serif' text-anchor="middle" textLength="51" lengthAdjust="spacingAndGlyphs">605.28</text>
<text x="855.3" y="2033.3" fill="#000" font-size="16" font-family='"Liberation Sans", sans-serif' text-anchor="middle" textLength="50.6" lengthAdjust="spacingAndGlyphs">605.39</text>
<text x="1078.4" y="2041.2" fill="#000" font-size="16" font-family='"Liberation Sans", sans-serif' text-anchor="middle" textLength="50.7" lengthAdjust="spacingAndGlyphs">605.39</text>
<g transform="translate(562.5,1806.7) rotate(-90.9)">
<text x="-1.2" y="0" font-size="35" font-family='"Liberation Sans", sans-serif' textLength="20.1" lengthAdjust="spacingAndGlyphs" stroke="#fff" stroke-width="0.8">S</text>
<text x="42.4" y="0" font-size="35" font-family='"Liberation Sans", sans-serif' textLength="165.7" lengthAdjust="spacingAndGlyphs" stroke="#fff" stroke-width="0.8">85°08’31”</text>
<text x="233.4" y="0" font-size="35" font-family='"Liberation Sans", sans-serif' textLength="28.3" lengthAdjust="spacingAndGlyphs" stroke="#fff" stroke-width="0.8">W</text>
<text x="281.7" y="0" font-size="35" font-family='"Liberation Sans", sans-serif' textLength="128.5" lengthAdjust="spacingAndGlyphs" stroke="#fff" stroke-width="0.8">120.00’</text>
<text x="436.5" y="0" font-size="35" font-family='"Liberation Sans", sans-serif' textLength="11.3" lengthAdjust="spacingAndGlyphs" stroke="#fff" stroke-width="0.8">(</text>
<text x="452.9" y="0" font-size="35" font-family='"Liberation Sans", sans-serif' textLength="17.8" lengthAdjust="spacingAndGlyphs" stroke="#fff" stroke-width="0.8">F</text>
<text x="494.5" y="0" font-size="35" font-family='"Liberation Sans", sans-serif' textLength="28.2" lengthAdjust="spacingAndGlyphs" stroke="#fff" stroke-width="0.8">&amp;</text>
<text x="545.4" y="0" font-size="35" font-family='"Liberation Sans", sans-serif' textLength="20.9" lengthAdjust="spacingAndGlyphs" stroke="#fff" stroke-width="0.8">P</text>
<text x="569.9" y="0" font-size="35" font-family='"Liberation Sans", sans-serif' textLength="11.3" lengthAdjust="spacingAndGlyphs" stroke="#fff" stroke-width="0.8">)</text>
</g>
<g transform="translate(1146,1818.6) rotate(-89.05)">
<text x="-1.3" y="0" font-size="35" font-family='"Liberation Sans", sans-serif' textLength="20.9" lengthAdjust="spacingAndGlyphs" stroke="#fff" stroke-width="0.8">N</text>
<text x="45.2" y="0" font-size="35" font-family='"Liberation Sans", sans-serif' textLength="167.2" lengthAdjust="spacingAndGlyphs" stroke="#fff" stroke-width="0.8">87°01’26”</text>
<text x="236.7" y="0" font-size="35" font-family='"Liberation Sans", sans-serif' textLength="19.3" lengthAdjust="spacingAndGlyphs" stroke="#fff" stroke-width="0.8">E</text>
<text x="280.3" y="0" font-size="35" font-family='"Liberation Sans", sans-serif' textLength="127.8" lengthAdjust="spacingAndGlyphs" stroke="#fff" stroke-width="0.8">120.00’</text>
<text x="434.4" y="0" font-size="35" font-family='"Liberation Sans", sans-serif' textLength="11.3" lengthAdjust="spacingAndGlyphs" stroke="#fff" stroke-width="0.8">(</text>
<text x="450.1" y="0" font-size="35" font-family='"Liberation Sans", sans-serif' textLength="18.6" lengthAdjust="spacingAndGlyphs" stroke="#fff" stroke-width="0.8">F</text>
<text x="491.6" y="0" font-size="35" font-family='"Liberation Sans", sans-serif' textLength="27.5" lengthAdjust="spacingAndGlyphs" stroke="#fff" stroke-width="0.8">&amp;</text>
<text x="542.6" y="0" font-size="35" font-family='"Liberation Sans", sans-serif' textLength="21.7" lengthAdjust="spacingAndGlyphs" stroke="#fff" stroke-width="0.8">P</text>
<text x="567" y="0" font-size="35" font-family='"Liberation Sans", sans-serif' textLength="12.1" lengthAdjust="spacingAndGlyphs" stroke="#fff" stroke-width="0.8">)</text>
</g>
<text x="264.6" y="1318.8" fill="#000" font-size="34" font-family='"Liberation Sans", sans-serif' textLength="127.9" lengthAdjust="spacingAndGlyphs" stroke="#fff" stroke-width="1.2">LOT  43</text>
<text x="254" y="1379" fill="#000" font-size="44" font-family='"Liberation Serif", serif' textLength="149" lengthAdjust="spacingAndGlyphs" font-style="italic">BLOCK</text>
<text x="263" y="1430" fill="#000" font-size="44" font-family='"Liberation Serif", serif' textLength="132.5" lengthAdjust="spacingAndGlyphs" font-style="italic">N.C.B.</text>
<text x="1331" y="1318.5" fill="#000" font-size="34" font-family='"Liberation Sans", sans-serif' textLength="128" lengthAdjust="spacingAndGlyphs" stroke="#fff" stroke-width="1.2">LOT  45</text>
<text x="1395" y="1377" fill="#000" font-size="44" font-family='"Liberation Serif", serif' text-anchor="middle" font-style="italic">7</text>
<text x="1329" y="1428.8" fill="#000" font-size="44" font-family='"Liberation Serif", serif' textLength="132" lengthAdjust="spacingAndGlyphs" font-style="italic">14850</text>
<polygon points="289,1119.5 329.4,1119.5 349.4,1154.1 329.4,1188.7 289,1188.7 269,1154.1" fill="none" stroke="#000" stroke-width="1.8" stroke-linejoin="miter"/>
<line x1="269" y1="1154.1" x2="349.4" y2="1154.1" stroke="#000" stroke-width="1.8" stroke-linecap="butt"/>
<text x="309.2" y="1146.1" fill="#000" font-size="23" font-family='"Liberation Sans", sans-serif' text-anchor="middle">37</text>
<text x="309.2" y="1180.7" fill="#000" font-size="23" font-family='"Liberation Sans", sans-serif' text-anchor="middle">29</text>
<text x="244.4" y="1214.3" fill="#000" font-size="22" font-family='"Liberation Sans", sans-serif' textLength="100.6" lengthAdjust="spacingAndGlyphs">E=603.5</text>
<text x="244.4" y="1238.4" fill="#000" font-size="22" font-family='"Liberation Sans", sans-serif' textLength="100.6" lengthAdjust="spacingAndGlyphs">F=604.2</text>
<polygon points="289,1613.7 329.4,1613.7 349.4,1648.3 329.4,1683 289,1683 269,1648.3" fill="none" stroke="#000" stroke-width="1.8" stroke-linejoin="miter"/>
<line x1="269" y1="1648.3" x2="349.4" y2="1648.3" stroke="#000" stroke-width="1.8" stroke-linecap="butt"/>
<text x="309.2" y="1640.3" fill="#000" font-size="23" font-family='"Liberation Sans", sans-serif' text-anchor="middle">19</text>
<text x="309.2" y="1675" fill="#000" font-size="23" font-family='"Liberation Sans", sans-serif' text-anchor="middle">10</text>
<text x="244.4" y="1708.5" fill="#000" font-size="22" font-family='"Liberation Sans", sans-serif' textLength="100.6" lengthAdjust="spacingAndGlyphs">E=605.0</text>
<text x="244.4" y="1731.6" fill="#000" font-size="22" font-family='"Liberation Sans", sans-serif' textLength="100.6" lengthAdjust="spacingAndGlyphs">F=605.8</text>
<polygon points="1354,1118.7 1394.6,1118.7 1414.6,1154.1 1394.6,1189.5 1354,1189.5 1334,1154.1" fill="none" stroke="#000" stroke-width="1.8" stroke-linejoin="miter"/>
<line x1="1334" y1="1154.1" x2="1414.6" y2="1154.1" stroke="#000" stroke-width="1.8" stroke-linecap="butt"/>
<text x="1374.3" y="1146.1" fill="#000" font-size="23" font-family='"Liberation Sans", sans-serif' text-anchor="middle">31</text>
<text x="1374.3" y="1181.5" fill="#000" font-size="23" font-family='"Liberation Sans", sans-serif' text-anchor="middle">23</text>
<text x="1309" y="1214" fill="#000" font-size="22" font-family='"Liberation Sans", sans-serif' textLength="100.6" lengthAdjust="spacingAndGlyphs">E=604.0</text>
<text x="1309" y="1238" fill="#000" font-size="22" font-family='"Liberation Sans", sans-serif' textLength="100.6" lengthAdjust="spacingAndGlyphs">F=604.7</text>
<polygon points="1354.4,1612.9 1394.6,1612.9 1414.6,1648 1394.6,1683 1354.4,1683 1334.4,1648" fill="none" stroke="#000" stroke-width="1.8" stroke-linejoin="miter"/>
<line x1="1334.4" y1="1648" x2="1414.6" y2="1648" stroke="#000" stroke-width="1.8" stroke-linecap="butt"/>
<text x="1374.5" y="1640" fill="#000" font-size="23" font-family='"Liberation Sans", sans-serif' text-anchor="middle">18</text>
<text x="1374.5" y="1675" fill="#000" font-size="23" font-family='"Liberation Sans", sans-serif' text-anchor="middle">8</text>
<text x="1309" y="1707" fill="#000" font-size="22" font-family='"Liberation Sans", sans-serif' textLength="100.6" lengthAdjust="spacingAndGlyphs">E=605.3</text>
<text x="1309" y="1731" fill="#000" font-size="22" font-family='"Liberation Sans", sans-serif' textLength="100.6" lengthAdjust="spacingAndGlyphs">F=605.9</text>
<text x="269" y="969" fill="#000" font-size="17" font-family='"Liberation Sans", sans-serif' textLength="95" lengthAdjust="spacingAndGlyphs">20’  BUILDING</text>
<text x="263" y="988.7" fill="#000" font-size="17" font-family='"Liberation Sans", sans-serif' textLength="104" lengthAdjust="spacingAndGlyphs">SETBACK  LINE</text>
<path d="M367,982.6 C385,982 395,995 410,1014" fill="none" stroke="#000" stroke-width="1.4"/>
<polygon points="413.5,1018.7 400.7,1008.3 407.1,1003.5" fill="#000"/>
<text x="478" y="1121" fill="#000" font-size="17" font-family='"Liberation Sans", sans-serif' textLength="86" lengthAdjust="spacingAndGlyphs">5’  BUILDING</text>
<text x="472" y="1142" fill="#000" font-size="17" font-family='"Liberation Sans", sans-serif' textLength="102.5" lengthAdjust="spacingAndGlyphs">SETBACK  LINE</text>
<line x1="579" y1="1137.6" x2="606" y2="1137.6" stroke="#000" stroke-width="1.4" stroke-linecap="butt"/>
<line x1="606" y1="1137.6" x2="650" y2="1163" stroke="#000" stroke-width="1.4" stroke-linecap="butt"/>
<polygon points="654,1166 638.4,1161.4 642.4,1154.6" fill="#000"/>
<text x="1106" y="1135.4" fill="#000" font-size="17" font-family='"Liberation Sans", sans-serif' textLength="84.6" lengthAdjust="spacingAndGlyphs">5’  BUILDING</text>
<text x="1098.7" y="1155.4" fill="#000" font-size="17" font-family='"Liberation Sans", sans-serif' textLength="102" lengthAdjust="spacingAndGlyphs">SETBACK  LINE</text>
<path d="M1098.7,1128.7 L1083.7,1128.7 C1065,1135 1050,1145 1032,1157" fill="none" stroke="#000" stroke-width="1.4"/>
<polygon points="1028.5,1159.8 1040.1,1148.4 1044.1,1155.2" fill="#000"/>
<text x="297.7" y="1878" fill="#000" font-size="17" font-family='"Liberation Sans", sans-serif' textLength="93.3" lengthAdjust="spacingAndGlyphs">10’  BUILDING</text>
<text x="291.7" y="1897.7" fill="#000" font-size="17" font-family='"Liberation Sans", sans-serif' textLength="103.8" lengthAdjust="spacingAndGlyphs">SETBACK  LINE</text>
<path d="M400,1891.7 C415,1890 425,1900 442,1915" fill="none" stroke="#000" stroke-width="1.4"/>
<polygon points="445,1917 431,1908.6 436.6,1903" fill="#000"/>
<text x="254" y="1953.3" fill="#000" font-size="17" font-family='"Liberation Sans", sans-serif' textLength="161" lengthAdjust="spacingAndGlyphs">10’  ELEC.,  GAS,  TELE.</text>
<text x="263" y="1973.8" fill="#000" font-size="17" font-family='"Liberation Sans", sans-serif' textLength="141" lengthAdjust="spacingAndGlyphs">&amp;  CATV  EASEMENT</text>
<path d="M404,1967 L418,1967 C430,1965 432,1935 441,1922" fill="none" stroke="#000" stroke-width="1.4"/>
<polygon points="443.6,1918.7 439,1934.3 432.2,1930.3" fill="#000"/>
<path d="M418,1967 C430,1970 432,2000 441,2014" fill="none" stroke="#000" stroke-width="1.4"/>
<polygon points="443.6,2018 432.2,2006.4 439,2002.4" fill="#000"/>
<text x="557" y="1887" fill="#000" font-size="17" font-family='"Liberation Sans", sans-serif' text-anchor="middle" textLength="34.5" lengthAdjust="spacingAndGlyphs">TELE.</text>
<text x="555.5" y="1906.7" fill="#000" font-size="17" font-family='"Liberation Sans", sans-serif' text-anchor="middle" textLength="71" lengthAdjust="spacingAndGlyphs">PEDESTAL</text>
<path d="M591,1900.7 L612,1905 L648,1942" fill="none" stroke="#000" stroke-width="1.4"/>
<polygon points="651,1945.8 638.8,1938.5 643.7,1933.5" fill="#000"/>
<text x="543" y="1933.8" fill="#000" font-size="17" font-family='"Liberation Sans", sans-serif' text-anchor="middle" textLength="36.2" lengthAdjust="spacingAndGlyphs">CATV</text>
<text x="542" y="1950.3" fill="#000" font-size="17" font-family='"Liberation Sans", sans-serif' text-anchor="middle" textLength="70.7" lengthAdjust="spacingAndGlyphs">PEDESTAL</text>
<path d="M579,1945.8 L613.6,1950 L626,1952" fill="none" stroke="#000" stroke-width="1.4"/>
<polygon points="630,1952.7 615.6,1954.8 616.4,1947.8" fill="#000"/>
<circle cx="634.6" cy="1953.3" r="6.6" fill="none" stroke="#000" stroke-width="1.8"/>
<circle cx="657" cy="1951.8" r="6.6" fill="none" stroke="#000" stroke-width="1.8"/>
<text x="579" y="1979" fill="#000" font-size="17" font-family='"Liberation Sans", sans-serif' text-anchor="middle" textLength="36" lengthAdjust="spacingAndGlyphs">ELEC.</text>
<text x="578" y="1997" fill="#000" font-size="17" font-family='"Liberation Sans", sans-serif' text-anchor="middle" textLength="28.5" lengthAdjust="spacingAndGlyphs">BOX</text>
<line x1="595.5" y1="1991.5" x2="630" y2="1988.5" stroke="#000" stroke-width="1.4" stroke-linecap="butt"/>
<polygon points="634.6,1988 622.8,1992.1 622.4,1985.1" fill="#000"/>
<rect x="636" y="1983.4" width="15" height="9.1" fill="none" stroke="#000" stroke-width="1.6"/>
<polygon points="580.5,2024 613.6,2049.6 613.6,2024 580.5,2049.6" fill="none" stroke="#000" stroke-width="1.8" stroke-linejoin="miter"/>
<polygon points="624,2024 656.6,2049.6 656.6,2024 624,2049.6" fill="none" stroke="#000" stroke-width="1.8" stroke-linejoin="miter"/>
<text x="600.7" y="2064.5" fill="#000" font-size="15.5" font-family='"Liberation Sans", sans-serif' text-anchor="middle" textLength="28" lengthAdjust="spacingAndGlyphs" font-weight="bold">WM.</text>
<text x="644" y="2063.5" fill="#000" font-size="15.5" font-family='"Liberation Sans", sans-serif' text-anchor="middle" textLength="28" lengthAdjust="spacingAndGlyphs" font-weight="bold">WM.</text>
<text transform="translate(829,1953) rotate(-90)" x="0" y="0" fill="#000" font-size="17" font-family='"Liberation Sans", sans-serif' text-anchor="middle">4.5</text>
<text transform="translate(847,1952.7) rotate(-90)" x="0" y="0" fill="#000" font-size="17" font-family='"Liberation Sans", sans-serif' text-anchor="middle" textLength="43" lengthAdjust="spacingAndGlyphs">SLOPE</text>
<line x1="831.3" y1="1931" x2="831.3" y2="1998.4" stroke="#000" stroke-width="1.4" stroke-linecap="butt"/>
<polygon points="821.7,1980.4 831.3,1980.4 831.3,1998.4" fill="none" stroke="#000" stroke-width="1.4" stroke-linejoin="miter"/>
<text x="886.6" y="1944.3" fill="#000" font-size="17" font-family='"Liberation Sans", sans-serif' text-anchor="middle" textLength="31" lengthAdjust="spacingAndGlyphs">16.3’</text>
<text x="886.6" y="1961" fill="#000" font-size="17" font-family='"Liberation Sans", sans-serif' text-anchor="middle" textLength="41" lengthAdjust="spacingAndGlyphs">CONC.</text>
<text x="886.6" y="1979" fill="#000" font-size="17" font-family='"Liberation Sans", sans-serif' text-anchor="middle" textLength="38.5" lengthAdjust="spacingAndGlyphs">DRIVE</text>
<text transform="translate(932,1953) rotate(-90)" x="0" y="0" fill="#000" font-size="17" font-family='"Liberation Sans", sans-serif' text-anchor="middle">3.6%</text>
<text transform="translate(952,1952.7) rotate(-90)" x="0" y="0" fill="#000" font-size="17" font-family='"Liberation Sans", sans-serif' text-anchor="middle" textLength="43" lengthAdjust="spacingAndGlyphs">SLOPE</text>
<line x1="937.6" y1="1931" x2="937.6" y2="1998.4" stroke="#000" stroke-width="1.4" stroke-linecap="butt"/>
<polygon points="927.5,1979 937.6,1979 937.6,1998.4" fill="none" stroke="#000" stroke-width="1.4" stroke-linejoin="miter"/>
<line x1="784.4" y1="1855" x2="784.4" y2="1935.8" stroke="#000" stroke-width="1.4" stroke-linecap="butt"/>
<line x1="784.4" y1="1994.6" x2="784.4" y2="2075.4" stroke="#000" stroke-width="1.4" stroke-linecap="butt"/>
<polygon points="784.4,1855 788.4,1873 780.4,1873" fill="#000"/>
<polygon points="784.4,2075.4 780.4,2057.4 788.4,2057.4" fill="#000"/>
<text transform="translate(790.5,1965.2) rotate(-90)" x="0" y="0" fill="#000" font-size="17" font-family='"Liberation Sans", sans-serif' text-anchor="middle">22.2’</text>
<text transform="translate(599.8,2185.2) rotate(-55)" x="0" y="0" fill="#000" font-size="16" font-family='"Liberation Sans", sans-serif' textLength="53" lengthAdjust="spacingAndGlyphs">T.O.C.=</text>
<text transform="translate(617.6,2186) rotate(-55)" x="0" y="0" fill="#000" font-size="16" font-family='"Liberation Sans", sans-serif' textLength="54" lengthAdjust="spacingAndGlyphs">605.08</text>
<text transform="translate(633.5,2187) rotate(-55)" x="0" y="0" fill="#000" font-size="16" font-family='"Liberation Sans", sans-serif' textLength="46" lengthAdjust="spacingAndGlyphs">GUT.=</text>
<text transform="translate(652.3,2189) rotate(-55)" x="0" y="0" fill="#000" font-size="16" font-family='"Liberation Sans", sans-serif' textLength="55" lengthAdjust="spacingAndGlyphs">604.56</text>
<text transform="translate(787,2185.2) rotate(-55)" x="0" y="0" fill="#000" font-size="16" font-family='"Liberation Sans", sans-serif' textLength="53" lengthAdjust="spacingAndGlyphs">T.O.C.=</text>
<text transform="translate(803,2186.6) rotate(-55)" x="0" y="0" fill="#000" font-size="16" font-family='"Liberation Sans", sans-serif' textLength="54" lengthAdjust="spacingAndGlyphs">605.27</text>
<text transform="translate(820.3,2186.6) rotate(-55)" x="0" y="0" fill="#000" font-size="16" font-family='"Liberation Sans", sans-serif' textLength="46" lengthAdjust="spacingAndGlyphs">GUT.=</text>
<text transform="translate(837.7,2192) rotate(-55)" x="0" y="0" fill="#000" font-size="16" font-family='"Liberation Sans", sans-serif' textLength="55" lengthAdjust="spacingAndGlyphs">604.72</text>
<text transform="translate(1018.5,2184) rotate(-55)" x="0" y="0" fill="#000" font-size="16" font-family='"Liberation Sans", sans-serif' textLength="53" lengthAdjust="spacingAndGlyphs">T.O.C.=</text>
<text transform="translate(1037,2185) rotate(-55)" x="0" y="0" fill="#000" font-size="16" font-family='"Liberation Sans", sans-serif' textLength="54" lengthAdjust="spacingAndGlyphs">605.44</text>
<text transform="translate(1053,2184) rotate(-55)" x="0" y="0" fill="#000" font-size="16" font-family='"Liberation Sans", sans-serif' textLength="46" lengthAdjust="spacingAndGlyphs">GUT.=</text>
<text transform="translate(1070.6,2190.6) rotate(-55)" x="0" y="0" fill="#000" font-size="16" font-family='"Liberation Sans", sans-serif' textLength="55" lengthAdjust="spacingAndGlyphs">604.92</text>
<line x1="1107.8" y1="2053" x2="1107.8" y2="2204" stroke="#000" stroke-width="1.6" stroke-linecap="butt"/>
<line x1="1112" y1="2044" x2="1112" y2="2204" stroke="#000" stroke-width="1.6" stroke-linecap="butt"/>
<text x="1117" y="2060" fill="#000" font-size="26" font-family='"Liberation Sans", sans-serif' textLength="142.3" lengthAdjust="spacingAndGlyphs">Δ =1°52’55”</text>
<text x="1117" y="2089.4" fill="#000" font-size="26" font-family='"Liberation Sans", sans-serif' textLength="136.9" lengthAdjust="spacingAndGlyphs">R=1360.00’</text>
<text x="1117" y="2118.8" fill="#000" font-size="26" font-family='"Liberation Sans", sans-serif' textLength="104.8" lengthAdjust="spacingAndGlyphs">L=44.67’</text>
<text x="1117" y="2145.5" fill="#000" font-size="26" font-family='"Liberation Sans", sans-serif' textLength="130" lengthAdjust="spacingAndGlyphs">CHD  BRG=</text>
<text x="1117" y="2176.5" fill="#000" font-size="26" font-family='"Liberation Sans", sans-serif' textLength="158" lengthAdjust="spacingAndGlyphs">S  3°55’02”  E</text>
<text x="1117" y="2204.3" fill="#000" font-size="26" font-family='"Liberation Sans", sans-serif' textLength="211.4" lengthAdjust="spacingAndGlyphs">CHD  DIST=44.67’</text>
<path d="M1107.8,2124 L1098,2124 C1075,2120 1065,2090 1055,2070 C1045,2045 1040,2030 1031,2022" fill="none" stroke="#000" stroke-width="1.6"/>
<polygon points="1027.5,2017 1038.5,2028.8 1032.5,2032.3" fill="#000"/>
<text x="661.6" y="2247.2" fill="#000" font-size="35" font-family='"Liberation Sans", sans-serif' textLength="355.4" lengthAdjust="spacingAndGlyphs" stroke="#fff" stroke-width="1.2">CHAVANEAUX  LNDG</text>
<line x1="621" y1="2264.3" x2="804.6" y2="2264.3" stroke="#000" stroke-width="1.8" stroke-linecap="butt"/>
<line x1="827" y1="2264.3" x2="855.4" y2="2264.3" stroke="#000" stroke-width="1.8" stroke-linecap="butt"/>
<line x1="878" y1="2264.3" x2="1062.7" y2="2264.3" stroke="#000" stroke-width="1.8" stroke-linecap="butt"/>
<text x="766" y="2290.5" fill="#000" font-size="26" font-family='"Liberation Sans", sans-serif' textLength="144" lengthAdjust="spacingAndGlyphs">(50’  R.O.W.)</text>
<g stroke="#6e6e6e" stroke-width="2">
<line x1="66" y1="2206" x2="426.5" y2="2206"/>
<line x1="66" y1="2237.2" x2="426.5" y2="2237.2"/>
<line x1="66" y1="2268.5" x2="426.5" y2="2268.5"/>
<line x1="66" y1="2299.8" x2="426.5" y2="2299.8"/>
<line x1="66" y1="2331" x2="426.5" y2="2331"/>
<line x1="66" y1="2362.2" x2="426.5" y2="2362.2"/>
<line x1="66" y1="2393.5" x2="426.5" y2="2393.5"/>
<line x1="66" y1="2424.8" x2="426.5" y2="2424.8"/>
<line x1="66" y1="2456" x2="426.5" y2="2456"/>
<line x1="66" y1="2487.2" x2="426.5" y2="2487.2"/>
<line x1="66" y1="2518.5" x2="426.5" y2="2518.5"/>
<line x1="66" y1="2549.8" x2="426.5" y2="2549.8"/>
<line x1="66" y1="2581" x2="426.5" y2="2581"/>
<line x1="66" y1="2612.2" x2="426.5" y2="2612.2"/>
<line x1="66" y1="2643.5" x2="426.5" y2="2643.5"/>
<line x1="66" y1="2674.8" x2="426.5" y2="2674.8"/>
<line x1="66" y1="2706" x2="426.5" y2="2706"/>
</g>
<g stroke="#222" stroke-width="1.8">
<line x1="66" y1="2143.5" x2="426.5" y2="2143.5"/>
<line x1="66" y1="2174.8" x2="426.5" y2="2174.8"/>
<line x1="426.5" y1="2143.5" x2="426.5" y2="2734"/>
</g>
<g stroke="#6e6e6e" stroke-width="2">
<line x1="295.5" y1="2174.8" x2="295.5" y2="2734"/>
</g>
<text x="199.1" y="2166.8" fill="#fff" font-size="25" font-family='"Liberation Sans", sans-serif' text-anchor="middle" textLength="18.4" lengthAdjust="spacingAndGlyphs" stroke="#000" stroke-width="1.1">A</text>
<text x="224.4" y="2166.8" fill="#fff" font-size="25" font-family='"Liberation Sans", sans-serif' text-anchor="middle" textLength="15.8" lengthAdjust="spacingAndGlyphs" stroke="#000" stroke-width="1.1">R</text>
<text x="245.2" y="2166.8" fill="#fff" font-size="25" font-family='"Liberation Sans", sans-serif' text-anchor="middle" textLength="11.7" lengthAdjust="spacingAndGlyphs" stroke="#000" stroke-width="1.1">E</text>
<text x="268" y="2166.8" fill="#fff" font-size="25" font-family='"Liberation Sans", sans-serif' text-anchor="middle" textLength="19.7" lengthAdjust="spacingAndGlyphs" stroke="#000" stroke-width="1.1">A</text>
<text x="289.4" y="2166.8" fill="#fff" font-size="25" font-family='"Liberation Sans", sans-serif' text-anchor="middle" textLength="11.7" lengthAdjust="spacingAndGlyphs" stroke="#000" stroke-width="1.1">S</text>
<text x="76" y="2200.8" fill="#000" font-size="24" font-family='"Liberation Sans", sans-serif' textLength="95.7" lengthAdjust="spacingAndGlyphs">DRIVEWAY</text>
<text x="423" y="2200.8" fill="#000" font-size="24" font-family='"Liberation Sans", sans-serif' text-anchor="end" textLength="107" lengthAdjust="spacingAndGlyphs">260 SQ. FT.</text>
<text x="76" y="2232" fill="#000" font-size="24" font-family='"Liberation Sans", sans-serif' textLength="102" lengthAdjust="spacingAndGlyphs">APPROACH</text>
<text x="423" y="2232" fill="#000" font-size="24" font-family='"Liberation Sans", sans-serif' text-anchor="end" textLength="107" lengthAdjust="spacingAndGlyphs">200 SQ. FT.</text>
<text x="76" y="2263.2" fill="#000" font-size="24" font-family='"Liberation Sans", sans-serif' textLength="108" lengthAdjust="spacingAndGlyphs">LEAD WALK</text>
<text x="423" y="2263.2" fill="#000" font-size="24" font-family='"Liberation Sans", sans-serif' text-anchor="end" textLength="94.5" lengthAdjust="spacingAndGlyphs">49 SQ. FT.</text>
<text x="76" y="2294.5" fill="#000" font-size="24" font-family='"Liberation Sans", sans-serif' textLength="128" lengthAdjust="spacingAndGlyphs">PUBLIC WALK</text>
<text x="423" y="2294.5" fill="#000" font-size="24" font-family='"Liberation Sans", sans-serif' text-anchor="end" textLength="106" lengthAdjust="spacingAndGlyphs">101 SQ. FT.</text>
<text x="76" y="2325.8" fill="#000" font-size="24" font-family='"Liberation Sans", sans-serif' textLength="52.6" lengthAdjust="spacingAndGlyphs">PATIO</text>
<text x="423" y="2325.8" fill="#000" font-size="24" font-family='"Liberation Sans", sans-serif' text-anchor="end" textLength="31.5" lengthAdjust="spacingAndGlyphs">N/A</text>
<text x="76" y="2357" fill="#000" font-size="24" font-family='"Liberation Sans", sans-serif' textLength="107.5" lengthAdjust="spacingAndGlyphs">HVAC PADS</text>
<text x="423" y="2357" fill="#000" font-size="24" font-family='"Liberation Sans", sans-serif' text-anchor="end" textLength="93.5" lengthAdjust="spacingAndGlyphs">16 SQ. FT.</text>
<text x="76" y="2388.2" fill="#000" font-size="24" font-family='"Liberation Sans", sans-serif' textLength="57.5" lengthAdjust="spacingAndGlyphs">TOTAL</text>
<text x="423" y="2388.2" fill="#000" font-size="24" font-family='"Liberation Sans", sans-serif' text-anchor="end" textLength="107" lengthAdjust="spacingAndGlyphs">626 SQ. FT.</text>
<text x="76" y="2450.8" fill="#000" font-size="24" font-family='"Liberation Sans", sans-serif' textLength="107.5" lengthAdjust="spacingAndGlyphs">FRONT SOD</text>
<text x="423" y="2450.8" fill="#000" font-size="24" font-family='"Liberation Sans", sans-serif' text-anchor="end" textLength="106" lengthAdjust="spacingAndGlyphs">188 SQ. YD.</text>
<text x="76" y="2482" fill="#000" font-size="24" font-family='"Liberation Sans", sans-serif' textLength="95.5" lengthAdjust="spacingAndGlyphs">REAR SOD</text>
<text x="423" y="2482" fill="#000" font-size="24" font-family='"Liberation Sans", sans-serif' text-anchor="end" textLength="106" lengthAdjust="spacingAndGlyphs">208 SQ. YD.</text>
<text x="76" y="2544.5" fill="#000" font-size="24" font-family='"Liberation Sans", sans-serif' textLength="124.7" lengthAdjust="spacingAndGlyphs">TOTAL FENCE</text>
<text x="423" y="2544.5" fill="#000" font-size="24" font-family='"Liberation Sans", sans-serif' text-anchor="end" textLength="105.5" lengthAdjust="spacingAndGlyphs">146 LN. FT.</text>
<text x="76" y="2607" fill="#000" font-size="24" font-family='"Liberation Sans", sans-serif' textLength="192" lengthAdjust="spacingAndGlyphs">AVERAGE EXPOSURE</text>
<text x="423" y="2607" fill="#000" font-size="24" font-family='"Liberation Sans", sans-serif' text-anchor="end" textLength="29" lengthAdjust="spacingAndGlyphs">26"</text>
<text x="76" y="2638.2" fill="#000" font-size="24" font-family='"Liberation Sans", sans-serif' textLength="121" lengthAdjust="spacingAndGlyphs">DRIVE SLOPE</text>
<text x="423" y="2638.2" fill="#000" font-size="24" font-family='"Liberation Sans", sans-serif' text-anchor="end" textLength="44.5" lengthAdjust="spacingAndGlyphs">4.5%</text>
<text x="76" y="2669.5" fill="#000" font-size="24" font-family='"Liberation Sans", sans-serif' textLength="103" lengthAdjust="spacingAndGlyphs">SLAB AREA</text>
<text x="423" y="2669.5" fill="#000" font-size="24" font-family='"Liberation Sans", sans-serif' text-anchor="end" textLength="123" lengthAdjust="spacingAndGlyphs">1,882 SQ. FT.</text>
<text x="76" y="2700.8" fill="#000" font-size="24" font-family='"Liberation Sans", sans-serif' textLength="89.5" lengthAdjust="spacingAndGlyphs">LOT AREA</text>
<text x="423" y="2700.8" fill="#000" font-size="24" font-family='"Liberation Sans", sans-serif' text-anchor="end" textLength="123" lengthAdjust="spacingAndGlyphs">5,597 SQ. FT.</text>
<text x="655" y="2392.3" fill="#000" font-size="26" font-family='"Liberation Serif", serif' textLength="193" lengthAdjust="spacingAndGlyphs" font-weight="bold" font-style="italic">SITE  PLAN  OF</text>
<text x="584.7" y="2418.7" fill="#000" font-size="26" font-family='"Liberation Serif", serif' textLength="333.9" lengthAdjust="spacingAndGlyphs" font-weight="bold" font-style="italic">9919  CHAVANEAUX  LNDG</text>
<text x="633.4" y="2445.4" fill="#000" font-size="26" font-family='"Liberation Serif", serif' textLength="236.6" lengthAdjust="spacingAndGlyphs" font-weight="bold" font-style="italic">LOT  44,  BLOCK  7</text>
<text x="588.3" y="2470.7" fill="#000" font-size="26" font-family='"Liberation Serif", serif' textLength="326.7" lengthAdjust="spacingAndGlyphs" font-weight="bold" font-style="italic">NEW  CITY  BLOCK  14850</text>
<text x="501.7" y="2504.3" fill="#000" font-size="35" font-family='"Liberation Serif", serif' textLength="498.2" lengthAdjust="spacingAndGlyphs" font-style="italic">CHAVANEAUX  SUBDIVISION</text>
<text x="685.8" y="2540.4" fill="#000" font-size="35" font-family='"Liberation Serif", serif' textLength="131.7" lengthAdjust="spacingAndGlyphs" font-style="italic">UNIT  3</text>
<text x="599" y="2569.2" fill="#000" font-size="26" font-family='"Liberation Serif", serif' textLength="303.4" lengthAdjust="spacingAndGlyphs" font-weight="bold" font-style="italic">CITY  OF  SAN  ANTONIO</text>
<text x="595.5" y="2595.6" fill="#000" font-size="26" font-family='"Liberation Serif", serif' textLength="312.3" lengthAdjust="spacingAndGlyphs" font-weight="bold" font-style="italic">BEXAR  COUNTY,  TEXAS</text>
<text x="665.2" y="2635.3" fill="#000" font-size="21" font-family='"Liberation Sans", sans-serif' textLength="109" lengthAdjust="spacingAndGlyphs">DRAWN  BY:</text>
<text x="802" y="2633" fill="#000" font-size="21" font-family='"Liberation Sans", sans-serif' textLength="39" lengthAdjust="spacingAndGlyphs">D.D.</text>
<line x1="776" y1="2637.5" x2="853.6" y2="2637.5" stroke="#000" stroke-width="1.6" stroke-linecap="butt"/>
<text x="665" y="2662.4" fill="#000" font-size="21" font-family='"Liberation Sans", sans-serif' textLength="134.5" lengthAdjust="spacingAndGlyphs">CHECKED  BY:</text>
<text x="824.8" y="2660" fill="#000" font-size="21" font-family='"Liberation Sans", sans-serif' textLength="38" lengthAdjust="spacingAndGlyphs">W.J.</text>
<line x1="809" y1="2665.5" x2="877" y2="2665.5" stroke="#000" stroke-width="1.6" stroke-linecap="butt"/>
<text x="665" y="2690" fill="#000" font-size="21" font-family='"Liberation Sans", sans-serif' textLength="51.5" lengthAdjust="spacingAndGlyphs">DATE:</text>
<text x="740" y="2688" fill="#000" font-size="21" font-family='"Liberation Sans", sans-serif' textLength="126" lengthAdjust="spacingAndGlyphs">10/27/2025</text>
<line x1="727" y1="2692.5" x2="888" y2="2692.5" stroke="#000" stroke-width="1.6" stroke-linecap="butt"/>
<line x1="1054.7" y1="2605.5" x2="1634" y2="2605.5" stroke="#000" stroke-width="3.6" stroke-linecap="butt"/>
<path d="M1118.1,2679.5 A110.9,110.9 0 1 1 1274.9,2679.5 L1259,2663.6 A88.4,88.4 0 1 0 1134,2663.6 Z" fill="#e0602f" stroke="#000" stroke-width="1.5"/>
<path d="M1261.7,2690.8 A110.9,110.9 0 0 1 1131.3,2690.8 L1145.1,2671.9 A87.5,87.5 0 0 0 1247.9,2671.9 Z" fill="#231f20" stroke="#231f20" stroke-width="1.5"/>
<circle cx="1196.5" cy="2601.1" r="63" fill="none" stroke="#231f20" stroke-width="17.3"/>
<rect x="1191.3" y="2460.3" width="10.3" height="284" rx="5" fill="#231f20"/>
<polygon points="1168.3,2569.6 1182.8,2555.3 1211.1,2555.3 1225.7,2570.6 1225.7,2582.3 1209.4,2582.3 1209.4,2576.8 1202.9,2572.1 1184.6,2572.1 1184.6,2585.9 1190.1,2590.9 1216.4,2591.4 1225.7,2600.6 1225.7,2629.7 1210.1,2644 1183.1,2644 1168.3,2629.7 1168.3,2618.4 1184.6,2618.4 1184.6,2623.9 1190.1,2629 1203.6,2629 1209.4,2623.9 1209.4,2607.7 1183.1,2607.7 1168.3,2593.1" fill="#e0602f" stroke="#000" stroke-width="1.3" stroke-linejoin="miter"/>
<line x1="1196.5" y1="2556" x2="1196.5" y2="2572" stroke="#231f20" stroke-width="3.5" stroke-linecap="butt"/>
<line x1="1209.4" y1="2606" x2="1225.7" y2="2606" stroke="#000" stroke-width="3.5" stroke-linecap="butt"/>
<text x="1352" y="2565.5" fill="#000" font-size="29" font-family='"Liberation Sans", sans-serif' textLength="223.5" lengthAdjust="spacingAndGlyphs" stroke="#fff" stroke-width="0.5">SINCLAIR  LAND</text>
<text x="1348" y="2594.4" fill="#000" font-size="29" font-family='"Liberation Sans", sans-serif' textLength="244.7" lengthAdjust="spacingAndGlyphs" stroke="#fff" stroke-width="0.5">SURVEYING,  INC.</text>
<text x="1371" y="2630.5" fill="#000" font-size="21" font-family='"Liberation Sans", sans-serif' textLength="183.6" lengthAdjust="spacingAndGlyphs">3411  MAGIC  DRIVE</text>
<text x="1317.6" y="2652.6" fill="#000" font-size="21" font-family='"Liberation Sans", sans-serif' textLength="292" lengthAdjust="spacingAndGlyphs">SAN  ANTONIO,  TEXAS  78229</text>
<text x="1388" y="2673.5" fill="#000" font-size="21" font-family='"Liberation Sans", sans-serif' textLength="149.4" lengthAdjust="spacingAndGlyphs">210–341–4518</text>
<text x="1328.8" y="2692" fill="#000" font-size="21" font-family='"Liberation Sans", sans-serif' textLength="270.8" lengthAdjust="spacingAndGlyphs">TBPELS  FIRM  NO.10089000</text>
<text x="1318.8" y="2714.8" fill="#000" font-size="21" font-family='"Liberation Sans", sans-serif' textLength="288.8" lengthAdjust="spacingAndGlyphs">JOB  NUMBER:  S–202583932</text>
<line x1="609.4" y1="1243.3" x2="633" y2="1243.3" stroke="#000" stroke-width="1.4" stroke-linecap="butt"/>
<line x1="674" y1="1243.3" x2="693.6" y2="1243.3" stroke="#000" stroke-width="1.4" stroke-linecap="butt"/>
<polygon points="609.4,1243.3 625.4,1239.3 625.4,1247.3" fill="#000"/>
<polygon points="693.6,1243.3 677.6,1247.3 677.6,1239.3" fill="#000"/>
<text x="653.5" y="1249.8" fill="#000" font-size="18" font-family='"Liberation Sans", sans-serif' text-anchor="middle" textLength="35" lengthAdjust="spacingAndGlyphs">9.2’</text>
<line x1="988.4" y1="1240" x2="1013" y2="1240" stroke="#000" stroke-width="1.4" stroke-linecap="butt"/>
<line x1="1053" y1="1240" x2="1075" y2="1240" stroke="#000" stroke-width="1.4" stroke-linecap="butt"/>
<polygon points="988.4,1240 1004.4,1236 1004.4,1244" fill="#000"/>
<polygon points="1075,1240 1059,1244 1059,1236" fill="#000"/>
<text x="1033" y="1246.5" fill="#000" font-size="18" font-family='"Liberation Sans", sans-serif' text-anchor="middle" textLength="34" lengthAdjust="spacingAndGlyphs">9.2’</text>
<line x1="619.6" y1="1797.8" x2="636" y2="1797.8" stroke="#000" stroke-width="1.4" stroke-linecap="butt"/>
<line x1="667.7" y1="1797.8" x2="691" y2="1797.8" stroke="#000" stroke-width="1.4" stroke-linecap="butt"/>
<polygon points="619.6,1797.8 635.6,1793.8 635.6,1801.8" fill="#000"/>
<polygon points="691,1797.8 675,1801.8 675,1793.8" fill="#000"/>
<text x="651.9" y="1804.3" fill="#000" font-size="18" font-family='"Liberation Sans", sans-serif' text-anchor="middle" textLength="25.7" lengthAdjust="spacingAndGlyphs">7.7’</text>
<line x1="993.4" y1="1834" x2="1011" y2="1834" stroke="#000" stroke-width="1.4" stroke-linecap="butt"/>
<line x1="1043" y1="1834" x2="1065.3" y2="1834" stroke="#000" stroke-width="1.4" stroke-linecap="butt"/>
<polygon points="993.4,1834 1009.4,1830 1009.4,1838" fill="#000"/>
<polygon points="1065.3,1834 1049.3,1838 1049.3,1830" fill="#000"/>
<text x="1027" y="1840.5" fill="#000" font-size="18" font-family='"Liberation Sans", sans-serif' text-anchor="middle" textLength="26" lengthAdjust="spacingAndGlyphs">7.6’</text>
<line x1="895.5" y1="1606" x2="895.5" y2="1625" stroke="#000" stroke-width="1.6" stroke-linecap="butt"/>
<line x1="901.5" y1="1625" x2="901.5" y2="1644" stroke="#000" stroke-width="1.6" stroke-linecap="butt"/>
<path d="M895.5,1616 Q907.5,1616 909.5,1626 Q908.5,1632 902.5,1635 L901.5,1635 L901.5,1625 L895.5,1625 Z" fill="#000"/>
<line x1="785.5" y1="1189" x2="785.5" y2="1208" stroke="#000" stroke-width="1.6" stroke-linecap="butt"/>
<line x1="779.4" y1="1208" x2="779.4" y2="1227" stroke="#000" stroke-width="1.6" stroke-linecap="butt"/>
<path d="M785.5,1199 Q791.5,1199 793.5,1209 Q792.5,1215 780.4,1218 L779.4,1218 L779.4,1208 L785.5,1208 Z" fill="#000"/>
<line x1="730.2" y1="1754" x2="730.2" y2="1773" stroke="#000" stroke-width="1.6" stroke-linecap="butt"/>
<line x1="736.2" y1="1773" x2="736.2" y2="1792" stroke="#000" stroke-width="1.6" stroke-linecap="butt"/>
<path d="M730.2,1764 Q742.2,1764 744.2,1774 Q743.2,1780 737.2,1783 L736.2,1783 L736.2,1773 L730.2,1773 Z" fill="#000"/>
<line x1="736" y1="1814.5" x2="736" y2="1833.5" stroke="#000" stroke-width="1.6" stroke-linecap="butt"/>
<line x1="729.5" y1="1833.5" x2="729.5" y2="1852.5" stroke="#000" stroke-width="1.6" stroke-linecap="butt"/>
<path d="M736,1824.5 Q742,1824.5 744,1834.5 Q743,1840.5 730.5,1843.5 L729.5,1843.5 L729.5,1833.5 L736,1833.5 Z" fill="#000"/>
</svg></body></html>
